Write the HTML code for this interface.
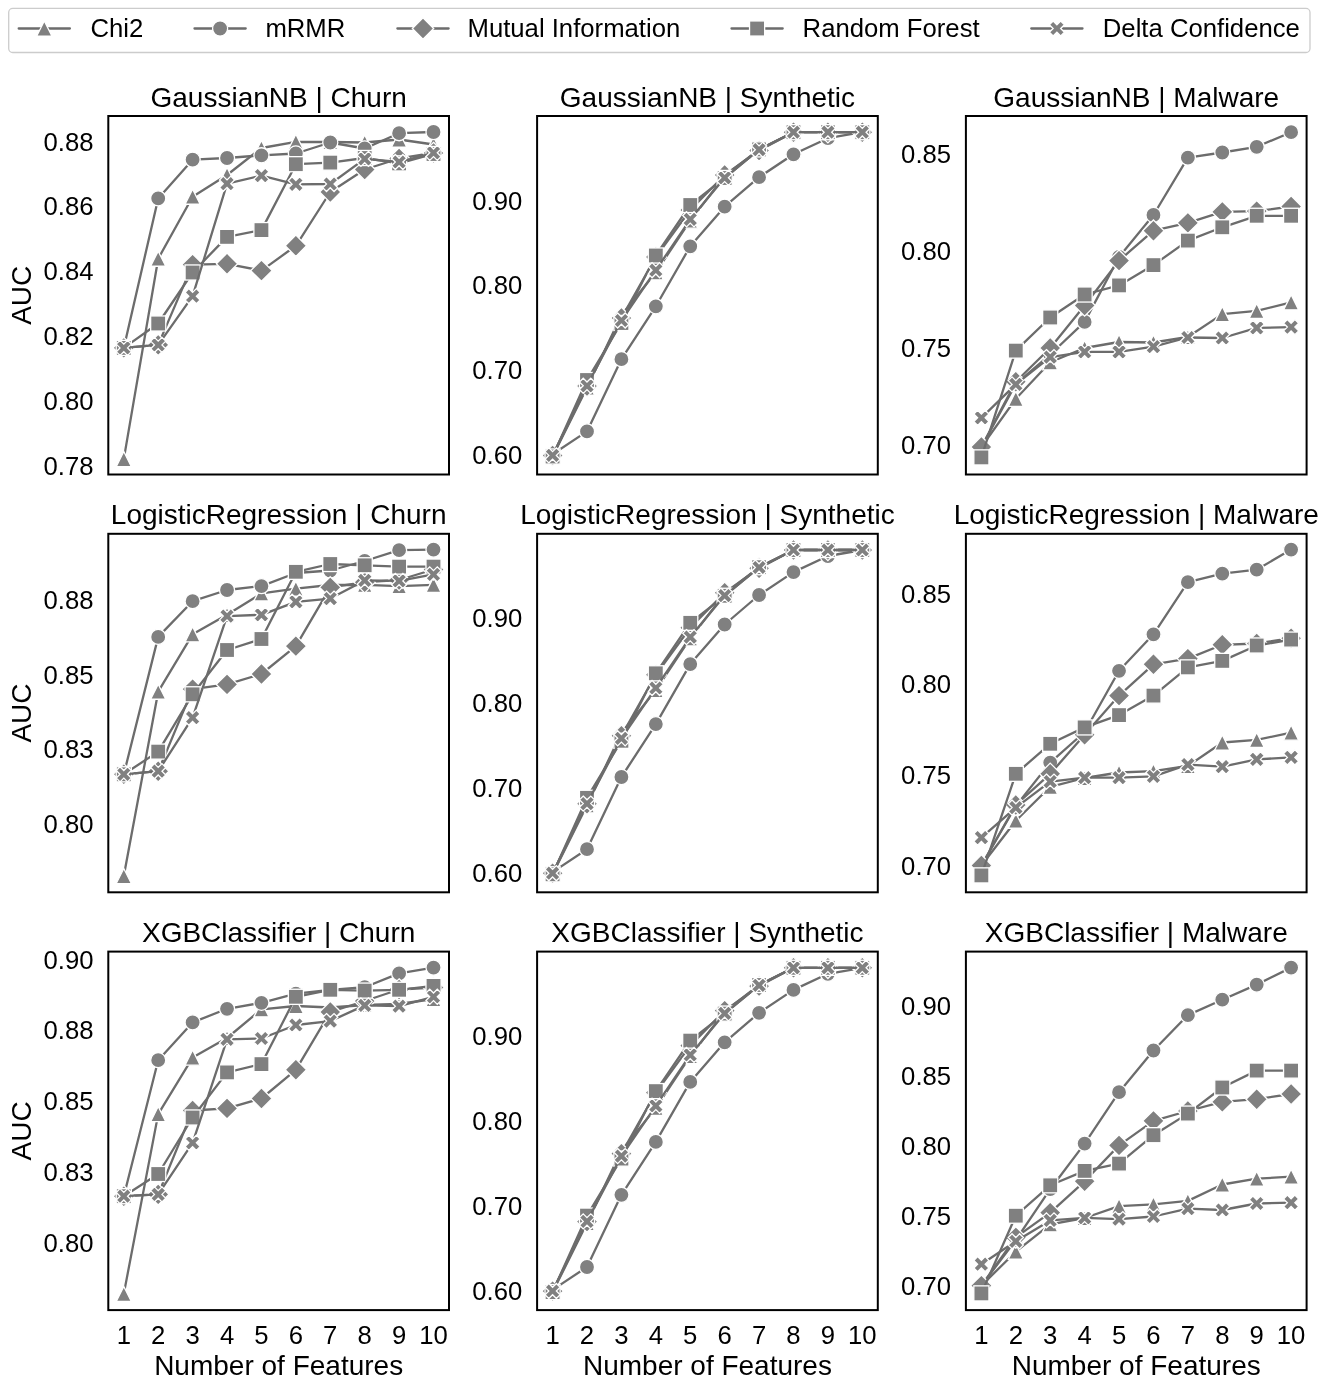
<!DOCTYPE html>
<html><head><meta charset="utf-8"><title>AUC vs Number of Features</title>
<style>html,body{margin:0;padding:0;background:#fff;width:1325px;height:1381px;overflow:hidden}
svg{will-change:transform}svg text{font-family:"Liberation Sans", sans-serif}</style></head>
<body>
<svg width="1325" height="1381" viewBox="0 0 1325 1381" style="display:block">
<rect width="1325" height="1381" fill="#fff"/>
<rect x="8.7" y="8.45" width="1301.3" height="44.05" rx="4" ry="4" fill="#fff" stroke="#cccccc" stroke-width="1.3"/>
<line x1="18.7" y1="28.5" x2="69.9" y2="28.5" stroke="#6c6c6c" stroke-width="2.3" stroke-linecap="round"/>
<g fill="#808080"><path d="M44.3 20.95 L36.75 36.05 L51.85 36.05 Z" stroke="#fff" stroke-width="1.3"/></g>
<text x="90.5" y="37.1" font-family="Liberation Sans, sans-serif" font-size="25.7" fill="#000000">Chi2</text>
<line x1="194.5" y1="28.5" x2="245.7" y2="28.5" stroke="#6c6c6c" stroke-width="2.3" stroke-linecap="round"/>
<g fill="#808080"><circle cx="220.1" cy="28.5" r="7.55" stroke="#fff" stroke-width="1.3"/></g>
<text x="265.4" y="37.1" font-family="Liberation Sans, sans-serif" font-size="25.7" fill="#000000">mRMR</text>
<line x1="397.4" y1="28.5" x2="448.6" y2="28.5" stroke="#6c6c6c" stroke-width="2.3" stroke-linecap="round"/>
<g fill="#808080"><path d="M423 17.82 L433.68 28.5 L423 39.18 L412.32 28.5 Z" stroke="#fff" stroke-width="1.3"/></g>
<text x="467.5" y="37.1" font-family="Liberation Sans, sans-serif" font-size="25.7" fill="#000000">Mutual Information</text>
<line x1="731.5" y1="28.5" x2="782.7" y2="28.5" stroke="#6c6c6c" stroke-width="2.3" stroke-linecap="round"/>
<g fill="#808080"><rect x="749.55" y="20.95" width="15.1" height="15.1" stroke="#fff" stroke-width="1.3"/></g>
<text x="802.6" y="37.1" font-family="Liberation Sans, sans-serif" font-size="25.7" fill="#000000">Random Forest</text>
<line x1="1031.3" y1="28.5" x2="1082.5" y2="28.5" stroke="#6c6c6c" stroke-width="2.3" stroke-linecap="round"/>
<g fill="#808080"><path d="M1053.12 20.95 L1056.9 24.73 L1060.68 20.95 L1064.45 24.73 L1060.68 28.5 L1064.45 32.27 L1060.68 36.05 L1056.9 32.27 L1053.12 36.05 L1049.35 32.27 L1053.12 28.5 L1049.35 24.73 Z" stroke="#fff" stroke-width="1.3"/></g>
<text x="1102.8" y="37.1" font-family="Liberation Sans, sans-serif" font-size="25.7" fill="#000000">Delta Confidence</text>
<clipPath id="c00"><rect x="108.3" y="116" width="340.7" height="358.5"/></clipPath>
<g clip-path="url(#c00)" fill="#808080">
<polyline points="123.79,459.1 158.2,258.7 192.61,196.7 227.03,175 261.44,148 295.86,141.8 330.27,142 364.69,142.5 399.1,139.5 433.51,144.5" fill="none" stroke="#6c6c6c" stroke-width="2.3" stroke-linejoin="round" stroke-linecap="butt"/>
<path d="M123.79 451.55 L116.24 466.65 L131.34 466.65 Z" stroke="#fff" stroke-width="1.3"/>
<path d="M158.2 251.15 L150.65 266.25 L165.75 266.25 Z" stroke="#fff" stroke-width="1.3"/>
<path d="M192.61 189.15 L185.06 204.25 L200.16 204.25 Z" stroke="#fff" stroke-width="1.3"/>
<path d="M227.03 167.45 L219.48 182.55 L234.58 182.55 Z" stroke="#fff" stroke-width="1.3"/>
<path d="M261.44 140.45 L253.89 155.55 L268.99 155.55 Z" stroke="#fff" stroke-width="1.3"/>
<path d="M295.86 134.25 L288.31 149.35 L303.41 149.35 Z" stroke="#fff" stroke-width="1.3"/>
<path d="M330.27 134.45 L322.72 149.55 L337.82 149.55 Z" stroke="#fff" stroke-width="1.3"/>
<path d="M364.69 134.95 L357.14 150.05 L372.24 150.05 Z" stroke="#fff" stroke-width="1.3"/>
<path d="M399.1 131.95 L391.55 147.05 L406.65 147.05 Z" stroke="#fff" stroke-width="1.3"/>
<path d="M433.51 136.95 L425.96 152.05 L441.06 152.05 Z" stroke="#fff" stroke-width="1.3"/>
<polyline points="123.79,347.9 158.2,198.4 192.61,159.7 227.03,158 261.44,155.3 295.86,153.5 330.27,142.5 364.69,148.5 399.1,133.2 433.51,132" fill="none" stroke="#6c6c6c" stroke-width="2.3" stroke-linejoin="round" stroke-linecap="butt"/>
<circle cx="123.79" cy="347.9" r="7.55" stroke="#fff" stroke-width="1.3"/>
<circle cx="158.2" cy="198.4" r="7.55" stroke="#fff" stroke-width="1.3"/>
<circle cx="192.61" cy="159.7" r="7.55" stroke="#fff" stroke-width="1.3"/>
<circle cx="227.03" cy="158" r="7.55" stroke="#fff" stroke-width="1.3"/>
<circle cx="261.44" cy="155.3" r="7.55" stroke="#fff" stroke-width="1.3"/>
<circle cx="295.86" cy="153.5" r="7.55" stroke="#fff" stroke-width="1.3"/>
<circle cx="330.27" cy="142.5" r="7.55" stroke="#fff" stroke-width="1.3"/>
<circle cx="364.69" cy="148.5" r="7.55" stroke="#fff" stroke-width="1.3"/>
<circle cx="399.1" cy="133.2" r="7.55" stroke="#fff" stroke-width="1.3"/>
<circle cx="433.51" cy="132" r="7.55" stroke="#fff" stroke-width="1.3"/>
<polyline points="123.79,347.9 158.2,344.9 192.61,264.6 227.03,263.8 261.44,270.6 295.86,245.8 330.27,192 364.69,169.5 399.1,158.5 433.51,153" fill="none" stroke="#6c6c6c" stroke-width="2.3" stroke-linejoin="round" stroke-linecap="butt"/>
<path d="M123.79 337.22 L134.46 347.9 L123.79 358.58 L113.11 347.9 Z" stroke="#fff" stroke-width="1.3"/>
<path d="M158.2 334.22 L168.88 344.9 L158.2 355.58 L147.52 344.9 Z" stroke="#fff" stroke-width="1.3"/>
<path d="M192.61 253.92 L203.29 264.6 L192.61 275.28 L181.94 264.6 Z" stroke="#fff" stroke-width="1.3"/>
<path d="M227.03 253.12 L237.71 263.8 L227.03 274.48 L216.35 263.8 Z" stroke="#fff" stroke-width="1.3"/>
<path d="M261.44 259.92 L272.12 270.6 L261.44 281.28 L250.77 270.6 Z" stroke="#fff" stroke-width="1.3"/>
<path d="M295.86 235.12 L306.53 245.8 L295.86 256.48 L285.18 245.8 Z" stroke="#fff" stroke-width="1.3"/>
<path d="M330.27 181.32 L340.95 192 L330.27 202.68 L319.59 192 Z" stroke="#fff" stroke-width="1.3"/>
<path d="M364.69 158.82 L375.36 169.5 L364.69 180.18 L354.01 169.5 Z" stroke="#fff" stroke-width="1.3"/>
<path d="M399.1 147.82 L409.78 158.5 L399.1 169.18 L388.42 158.5 Z" stroke="#fff" stroke-width="1.3"/>
<path d="M433.51 142.32 L444.19 153 L433.51 163.68 L422.84 153 Z" stroke="#fff" stroke-width="1.3"/>
<polyline points="123.79,347.9 158.2,323.5 192.61,272.5 227.03,236.9 261.44,230.1 295.86,164.2 330.27,162.6 364.69,158 399.1,163.4 433.51,154" fill="none" stroke="#6c6c6c" stroke-width="2.3" stroke-linejoin="round" stroke-linecap="butt"/>
<rect x="116.24" y="340.35" width="15.1" height="15.1" stroke="#fff" stroke-width="1.3"/>
<rect x="150.65" y="315.95" width="15.1" height="15.1" stroke="#fff" stroke-width="1.3"/>
<rect x="185.06" y="264.95" width="15.1" height="15.1" stroke="#fff" stroke-width="1.3"/>
<rect x="219.48" y="229.35" width="15.1" height="15.1" stroke="#fff" stroke-width="1.3"/>
<rect x="253.89" y="222.55" width="15.1" height="15.1" stroke="#fff" stroke-width="1.3"/>
<rect x="288.31" y="156.65" width="15.1" height="15.1" stroke="#fff" stroke-width="1.3"/>
<rect x="322.72" y="155.05" width="15.1" height="15.1" stroke="#fff" stroke-width="1.3"/>
<rect x="357.14" y="150.45" width="15.1" height="15.1" stroke="#fff" stroke-width="1.3"/>
<rect x="391.55" y="155.85" width="15.1" height="15.1" stroke="#fff" stroke-width="1.3"/>
<rect x="425.96" y="146.45" width="15.1" height="15.1" stroke="#fff" stroke-width="1.3"/>
<polyline points="123.79,347.9 158.2,344.9 192.61,296.2 227.03,183.7 261.44,175.6 295.86,184.3 330.27,184 364.69,158.9 399.1,162 433.51,152.8" fill="none" stroke="#6c6c6c" stroke-width="2.3" stroke-linejoin="round" stroke-linecap="butt"/>
<path d="M120.01 340.35 L123.79 344.12 L127.56 340.35 L131.34 344.12 L127.56 347.9 L131.34 351.67 L127.56 355.45 L123.79 351.67 L120.01 355.45 L116.24 351.67 L120.01 347.9 L116.24 344.12 Z" stroke="#fff" stroke-width="1.3"/>
<path d="M154.43 337.35 L158.2 341.12 L161.98 337.35 L165.75 341.12 L161.98 344.9 L165.75 348.67 L161.98 352.45 L158.2 348.67 L154.43 352.45 L150.65 348.67 L154.43 344.9 L150.65 341.12 Z" stroke="#fff" stroke-width="1.3"/>
<path d="M188.84 288.65 L192.61 292.43 L196.39 288.65 L200.16 292.43 L196.39 296.2 L200.16 299.97 L196.39 303.75 L192.61 299.97 L188.84 303.75 L185.06 299.97 L188.84 296.2 L185.06 292.43 Z" stroke="#fff" stroke-width="1.3"/>
<path d="M223.25 176.15 L227.03 179.92 L230.8 176.15 L234.58 179.92 L230.8 183.7 L234.58 187.47 L230.8 191.25 L227.03 187.47 L223.25 191.25 L219.48 187.47 L223.25 183.7 L219.48 179.92 Z" stroke="#fff" stroke-width="1.3"/>
<path d="M257.67 168.05 L261.44 171.82 L265.22 168.05 L268.99 171.82 L265.22 175.6 L268.99 179.38 L265.22 183.15 L261.44 179.38 L257.67 183.15 L253.89 179.38 L257.67 175.6 L253.89 171.82 Z" stroke="#fff" stroke-width="1.3"/>
<path d="M292.08 176.75 L295.86 180.53 L299.63 176.75 L303.41 180.53 L299.63 184.3 L303.41 188.08 L299.63 191.85 L295.86 188.08 L292.08 191.85 L288.31 188.08 L292.08 184.3 L288.31 180.53 Z" stroke="#fff" stroke-width="1.3"/>
<path d="M326.5 176.45 L330.27 180.22 L334.05 176.45 L337.82 180.22 L334.05 184 L337.82 187.78 L334.05 191.55 L330.27 187.78 L326.5 191.55 L322.72 187.78 L326.5 184 L322.72 180.22 Z" stroke="#fff" stroke-width="1.3"/>
<path d="M360.91 151.35 L364.69 155.12 L368.46 151.35 L372.24 155.12 L368.46 158.9 L372.24 162.68 L368.46 166.45 L364.69 162.68 L360.91 166.45 L357.14 162.68 L360.91 158.9 L357.14 155.12 Z" stroke="#fff" stroke-width="1.3"/>
<path d="M395.32 154.45 L399.1 158.22 L402.87 154.45 L406.65 158.22 L402.87 162 L406.65 165.78 L402.87 169.55 L399.1 165.78 L395.32 169.55 L391.55 165.78 L395.32 162 L391.55 158.22 Z" stroke="#fff" stroke-width="1.3"/>
<path d="M429.74 145.25 L433.51 149.03 L437.29 145.25 L441.06 149.03 L437.29 152.8 L441.06 156.58 L437.29 160.35 L433.51 156.58 L429.74 160.35 L425.96 156.58 L429.74 152.8 L425.96 149.03 Z" stroke="#fff" stroke-width="1.3"/>
</g>
<rect x="108.3" y="116" width="340.7" height="358.5" fill="none" stroke="#000000" stroke-width="2"/>
<text x="278.65" y="106.6" text-anchor="middle" font-family="Liberation Sans, sans-serif" font-size="28" fill="#000000">GaussianNB | Churn</text>
<text x="93.5" y="474.5" text-anchor="end" font-family="Liberation Sans, sans-serif" font-size="25.7" fill="#000000">0.78</text>
<text x="93.5" y="409.74" text-anchor="end" font-family="Liberation Sans, sans-serif" font-size="25.7" fill="#000000">0.80</text>
<text x="93.5" y="344.98" text-anchor="end" font-family="Liberation Sans, sans-serif" font-size="25.7" fill="#000000">0.82</text>
<text x="93.5" y="280.22" text-anchor="end" font-family="Liberation Sans, sans-serif" font-size="25.7" fill="#000000">0.84</text>
<text x="93.5" y="215.46" text-anchor="end" font-family="Liberation Sans, sans-serif" font-size="25.7" fill="#000000">0.86</text>
<text x="93.5" y="150.7" text-anchor="end" font-family="Liberation Sans, sans-serif" font-size="25.7" fill="#000000">0.88</text>
<text x="31.4" y="295.25" transform="rotate(-90 31.4 295.25)" text-anchor="middle" font-family="Liberation Sans, sans-serif" font-size="28" fill="#000000">AUC</text>
<clipPath id="c01"><rect x="537.1" y="116" width="340.7" height="358.5"/></clipPath>
<g clip-path="url(#c01)" fill="#808080">
<polyline points="552.59,456.5 587,387.5 621.41,315.2 655.83,272.3 690.24,220.6 724.66,176 759.07,149.4 793.49,132.2 827.9,132.2 862.31,132.2" fill="none" stroke="#6c6c6c" stroke-width="2.3" stroke-linejoin="round" stroke-linecap="butt"/>
<path d="M552.59 448.95 L545.04 464.05 L560.14 464.05 Z" stroke="#fff" stroke-width="1.3"/>
<path d="M587 379.95 L579.45 395.05 L594.55 395.05 Z" stroke="#fff" stroke-width="1.3"/>
<path d="M621.41 307.65 L613.86 322.75 L628.96 322.75 Z" stroke="#fff" stroke-width="1.3"/>
<path d="M655.83 264.75 L648.28 279.85 L663.38 279.85 Z" stroke="#fff" stroke-width="1.3"/>
<path d="M690.24 213.05 L682.69 228.15 L697.79 228.15 Z" stroke="#fff" stroke-width="1.3"/>
<path d="M724.66 168.45 L717.11 183.55 L732.21 183.55 Z" stroke="#fff" stroke-width="1.3"/>
<path d="M759.07 141.85 L751.52 156.95 L766.62 156.95 Z" stroke="#fff" stroke-width="1.3"/>
<path d="M793.49 124.65 L785.94 139.75 L801.04 139.75 Z" stroke="#fff" stroke-width="1.3"/>
<path d="M827.9 124.65 L820.35 139.75 L835.45 139.75 Z" stroke="#fff" stroke-width="1.3"/>
<path d="M862.31 124.65 L854.76 139.75 L869.86 139.75 Z" stroke="#fff" stroke-width="1.3"/>
<polyline points="552.59,454.3 587,431.4 621.41,359.2 655.83,306.3 690.24,246.3 724.66,206.7 759.07,177.2 793.49,154.3 827.9,138.2 862.31,132.2" fill="none" stroke="#6c6c6c" stroke-width="2.3" stroke-linejoin="round" stroke-linecap="butt"/>
<circle cx="552.59" cy="454.3" r="7.55" stroke="#fff" stroke-width="1.3"/>
<circle cx="587" cy="431.4" r="7.55" stroke="#fff" stroke-width="1.3"/>
<circle cx="621.41" cy="359.2" r="7.55" stroke="#fff" stroke-width="1.3"/>
<circle cx="655.83" cy="306.3" r="7.55" stroke="#fff" stroke-width="1.3"/>
<circle cx="690.24" cy="246.3" r="7.55" stroke="#fff" stroke-width="1.3"/>
<circle cx="724.66" cy="206.7" r="7.55" stroke="#fff" stroke-width="1.3"/>
<circle cx="759.07" cy="177.2" r="7.55" stroke="#fff" stroke-width="1.3"/>
<circle cx="793.49" cy="154.3" r="7.55" stroke="#fff" stroke-width="1.3"/>
<circle cx="827.9" cy="138.2" r="7.55" stroke="#fff" stroke-width="1.3"/>
<circle cx="862.31" cy="132.2" r="7.55" stroke="#fff" stroke-width="1.3"/>
<polyline points="552.59,455.5 587,386 621.41,318 655.83,257 690.24,210 724.66,175 759.07,150.5 793.49,132.2 827.9,132.2 862.31,132.2" fill="none" stroke="#6c6c6c" stroke-width="2.3" stroke-linejoin="round" stroke-linecap="butt"/>
<path d="M552.59 444.82 L563.26 455.5 L552.59 466.18 L541.91 455.5 Z" stroke="#fff" stroke-width="1.3"/>
<path d="M587 375.32 L597.68 386 L587 396.68 L576.32 386 Z" stroke="#fff" stroke-width="1.3"/>
<path d="M621.41 307.32 L632.09 318 L621.41 328.68 L610.74 318 Z" stroke="#fff" stroke-width="1.3"/>
<path d="M655.83 246.32 L666.51 257 L655.83 267.68 L645.15 257 Z" stroke="#fff" stroke-width="1.3"/>
<path d="M690.24 199.32 L700.92 210 L690.24 220.68 L679.57 210 Z" stroke="#fff" stroke-width="1.3"/>
<path d="M724.66 164.32 L735.33 175 L724.66 185.68 L713.98 175 Z" stroke="#fff" stroke-width="1.3"/>
<path d="M759.07 139.82 L769.75 150.5 L759.07 161.18 L748.39 150.5 Z" stroke="#fff" stroke-width="1.3"/>
<path d="M793.49 121.52 L804.16 132.2 L793.49 142.88 L782.81 132.2 Z" stroke="#fff" stroke-width="1.3"/>
<path d="M827.9 121.52 L838.58 132.2 L827.9 142.88 L817.22 132.2 Z" stroke="#fff" stroke-width="1.3"/>
<path d="M862.31 121.52 L872.99 132.2 L862.31 142.88 L851.64 132.2 Z" stroke="#fff" stroke-width="1.3"/>
<polyline points="552.59,456.5 587,380 621.41,323 655.83,255.5 690.24,205 724.66,178 759.07,149.4 793.49,132.2 827.9,132.2 862.31,132.2" fill="none" stroke="#6c6c6c" stroke-width="2.3" stroke-linejoin="round" stroke-linecap="butt"/>
<rect x="545.04" y="448.95" width="15.1" height="15.1" stroke="#fff" stroke-width="1.3"/>
<rect x="579.45" y="372.45" width="15.1" height="15.1" stroke="#fff" stroke-width="1.3"/>
<rect x="613.86" y="315.45" width="15.1" height="15.1" stroke="#fff" stroke-width="1.3"/>
<rect x="648.28" y="247.95" width="15.1" height="15.1" stroke="#fff" stroke-width="1.3"/>
<rect x="682.69" y="197.45" width="15.1" height="15.1" stroke="#fff" stroke-width="1.3"/>
<rect x="717.11" y="170.45" width="15.1" height="15.1" stroke="#fff" stroke-width="1.3"/>
<rect x="751.52" y="141.85" width="15.1" height="15.1" stroke="#fff" stroke-width="1.3"/>
<rect x="785.94" y="124.65" width="15.1" height="15.1" stroke="#fff" stroke-width="1.3"/>
<rect x="820.35" y="124.65" width="15.1" height="15.1" stroke="#fff" stroke-width="1.3"/>
<rect x="854.76" y="124.65" width="15.1" height="15.1" stroke="#fff" stroke-width="1.3"/>
<polyline points="552.59,455.4 587,385.8 621.41,320.5 655.83,270.2 690.24,219.3 724.66,177.8 759.07,149.7 793.49,132.2 827.9,132.2 862.31,132.2" fill="none" stroke="#6c6c6c" stroke-width="2.3" stroke-linejoin="round" stroke-linecap="butt"/>
<path d="M548.81 447.85 L552.59 451.62 L556.36 447.85 L560.14 451.62 L556.36 455.4 L560.14 459.17 L556.36 462.95 L552.59 459.17 L548.81 462.95 L545.04 459.17 L548.81 455.4 L545.04 451.62 Z" stroke="#fff" stroke-width="1.3"/>
<path d="M583.23 378.25 L587 382.03 L590.78 378.25 L594.55 382.03 L590.78 385.8 L594.55 389.57 L590.78 393.35 L587 389.57 L583.23 393.35 L579.45 389.57 L583.23 385.8 L579.45 382.03 Z" stroke="#fff" stroke-width="1.3"/>
<path d="M617.64 312.95 L621.41 316.73 L625.19 312.95 L628.96 316.73 L625.19 320.5 L628.96 324.27 L625.19 328.05 L621.41 324.27 L617.64 328.05 L613.86 324.27 L617.64 320.5 L613.86 316.73 Z" stroke="#fff" stroke-width="1.3"/>
<path d="M652.05 262.65 L655.83 266.43 L659.6 262.65 L663.38 266.43 L659.6 270.2 L663.38 273.97 L659.6 277.75 L655.83 273.97 L652.05 277.75 L648.28 273.97 L652.05 270.2 L648.28 266.43 Z" stroke="#fff" stroke-width="1.3"/>
<path d="M686.47 211.75 L690.24 215.53 L694.02 211.75 L697.79 215.53 L694.02 219.3 L697.79 223.08 L694.02 226.85 L690.24 223.08 L686.47 226.85 L682.69 223.08 L686.47 219.3 L682.69 215.53 Z" stroke="#fff" stroke-width="1.3"/>
<path d="M720.88 170.25 L724.66 174.03 L728.43 170.25 L732.21 174.03 L728.43 177.8 L732.21 181.58 L728.43 185.35 L724.66 181.58 L720.88 185.35 L717.11 181.58 L720.88 177.8 L717.11 174.03 Z" stroke="#fff" stroke-width="1.3"/>
<path d="M755.3 142.15 L759.07 145.92 L762.85 142.15 L766.62 145.92 L762.85 149.7 L766.62 153.47 L762.85 157.25 L759.07 153.47 L755.3 157.25 L751.52 153.47 L755.3 149.7 L751.52 145.92 Z" stroke="#fff" stroke-width="1.3"/>
<path d="M789.71 124.65 L793.49 128.42 L797.26 124.65 L801.04 128.42 L797.26 132.2 L801.04 135.97 L797.26 139.75 L793.49 135.97 L789.71 139.75 L785.94 135.97 L789.71 132.2 L785.94 128.42 Z" stroke="#fff" stroke-width="1.3"/>
<path d="M824.12 124.65 L827.9 128.42 L831.67 124.65 L835.45 128.42 L831.67 132.2 L835.45 135.97 L831.67 139.75 L827.9 135.97 L824.12 139.75 L820.35 135.97 L824.12 132.2 L820.35 128.42 Z" stroke="#fff" stroke-width="1.3"/>
<path d="M858.54 124.65 L862.31 128.42 L866.09 124.65 L869.86 128.42 L866.09 132.2 L869.86 135.97 L866.09 139.75 L862.31 135.97 L858.54 139.75 L854.76 135.97 L858.54 132.2 L854.76 128.42 Z" stroke="#fff" stroke-width="1.3"/>
</g>
<rect x="537.1" y="116" width="340.7" height="358.5" fill="none" stroke="#000000" stroke-width="2"/>
<text x="707.45" y="106.6" text-anchor="middle" font-family="Liberation Sans, sans-serif" font-size="28" fill="#000000">GaussianNB | Synthetic</text>
<text x="522.3" y="464.1" text-anchor="end" font-family="Liberation Sans, sans-serif" font-size="25.7" fill="#000000">0.60</text>
<text x="522.3" y="379.27" text-anchor="end" font-family="Liberation Sans, sans-serif" font-size="25.7" fill="#000000">0.70</text>
<text x="522.3" y="294.43" text-anchor="end" font-family="Liberation Sans, sans-serif" font-size="25.7" fill="#000000">0.80</text>
<text x="522.3" y="209.6" text-anchor="end" font-family="Liberation Sans, sans-serif" font-size="25.7" fill="#000000">0.90</text>
<clipPath id="c02"><rect x="965.9" y="116" width="340.7" height="358.5"/></clipPath>
<g clip-path="url(#c02)" fill="#808080">
<polyline points="981.39,447 1015.8,398.8 1050.21,362.3 1084.63,348 1119.04,342 1153.46,342.5 1187.87,337 1222.29,314.1 1256.7,310.9 1291.11,302.3" fill="none" stroke="#6c6c6c" stroke-width="2.3" stroke-linejoin="round" stroke-linecap="butt"/>
<path d="M981.39 439.45 L973.84 454.55 L988.94 454.55 Z" stroke="#fff" stroke-width="1.3"/>
<path d="M1015.8 391.25 L1008.25 406.35 L1023.35 406.35 Z" stroke="#fff" stroke-width="1.3"/>
<path d="M1050.21 354.75 L1042.66 369.85 L1057.76 369.85 Z" stroke="#fff" stroke-width="1.3"/>
<path d="M1084.63 340.45 L1077.08 355.55 L1092.18 355.55 Z" stroke="#fff" stroke-width="1.3"/>
<path d="M1119.04 334.45 L1111.49 349.55 L1126.59 349.55 Z" stroke="#fff" stroke-width="1.3"/>
<path d="M1153.46 334.95 L1145.91 350.05 L1161.01 350.05 Z" stroke="#fff" stroke-width="1.3"/>
<path d="M1187.87 329.45 L1180.32 344.55 L1195.42 344.55 Z" stroke="#fff" stroke-width="1.3"/>
<path d="M1222.29 306.55 L1214.74 321.65 L1229.84 321.65 Z" stroke="#fff" stroke-width="1.3"/>
<path d="M1256.7 303.35 L1249.15 318.45 L1264.25 318.45 Z" stroke="#fff" stroke-width="1.3"/>
<path d="M1291.11 294.75 L1283.56 309.85 L1298.66 309.85 Z" stroke="#fff" stroke-width="1.3"/>
<polyline points="981.39,447 1015.8,384 1050.21,354.5 1084.63,321.9 1119.04,257 1153.46,215 1187.87,157.7 1222.29,152.5 1256.7,146.8 1291.11,132.2" fill="none" stroke="#6c6c6c" stroke-width="2.3" stroke-linejoin="round" stroke-linecap="butt"/>
<circle cx="981.39" cy="447" r="7.55" stroke="#fff" stroke-width="1.3"/>
<circle cx="1015.8" cy="384" r="7.55" stroke="#fff" stroke-width="1.3"/>
<circle cx="1050.21" cy="354.5" r="7.55" stroke="#fff" stroke-width="1.3"/>
<circle cx="1084.63" cy="321.9" r="7.55" stroke="#fff" stroke-width="1.3"/>
<circle cx="1119.04" cy="257" r="7.55" stroke="#fff" stroke-width="1.3"/>
<circle cx="1153.46" cy="215" r="7.55" stroke="#fff" stroke-width="1.3"/>
<circle cx="1187.87" cy="157.7" r="7.55" stroke="#fff" stroke-width="1.3"/>
<circle cx="1222.29" cy="152.5" r="7.55" stroke="#fff" stroke-width="1.3"/>
<circle cx="1256.7" cy="146.8" r="7.55" stroke="#fff" stroke-width="1.3"/>
<circle cx="1291.11" cy="132.2" r="7.55" stroke="#fff" stroke-width="1.3"/>
<polyline points="981.39,447 1015.8,381.8 1050.21,348 1084.63,305.5 1119.04,260.6 1153.46,230.7 1187.87,222.9 1222.29,211.9 1256.7,211.1 1291.11,206.5" fill="none" stroke="#6c6c6c" stroke-width="2.3" stroke-linejoin="round" stroke-linecap="butt"/>
<path d="M981.39 436.32 L992.06 447 L981.39 457.68 L970.71 447 Z" stroke="#fff" stroke-width="1.3"/>
<path d="M1015.8 371.12 L1026.48 381.8 L1015.8 392.48 L1005.12 381.8 Z" stroke="#fff" stroke-width="1.3"/>
<path d="M1050.21 337.32 L1060.89 348 L1050.21 358.68 L1039.54 348 Z" stroke="#fff" stroke-width="1.3"/>
<path d="M1084.63 294.82 L1095.31 305.5 L1084.63 316.18 L1073.95 305.5 Z" stroke="#fff" stroke-width="1.3"/>
<path d="M1119.04 249.92 L1129.72 260.6 L1119.04 271.28 L1108.37 260.6 Z" stroke="#fff" stroke-width="1.3"/>
<path d="M1153.46 220.02 L1164.13 230.7 L1153.46 241.38 L1142.78 230.7 Z" stroke="#fff" stroke-width="1.3"/>
<path d="M1187.87 212.22 L1198.55 222.9 L1187.87 233.58 L1177.19 222.9 Z" stroke="#fff" stroke-width="1.3"/>
<path d="M1222.29 201.22 L1232.96 211.9 L1222.29 222.58 L1211.61 211.9 Z" stroke="#fff" stroke-width="1.3"/>
<path d="M1256.7 200.42 L1267.38 211.1 L1256.7 221.78 L1246.02 211.1 Z" stroke="#fff" stroke-width="1.3"/>
<path d="M1291.11 195.82 L1301.79 206.5 L1291.11 217.18 L1280.44 206.5 Z" stroke="#fff" stroke-width="1.3"/>
<polyline points="981.39,457.4 1015.8,350.6 1050.21,317.5 1084.63,294.5 1119.04,285.4 1153.46,265.1 1187.87,240.6 1222.29,227.3 1256.7,215.8 1291.11,215.8" fill="none" stroke="#6c6c6c" stroke-width="2.3" stroke-linejoin="round" stroke-linecap="butt"/>
<rect x="973.84" y="449.85" width="15.1" height="15.1" stroke="#fff" stroke-width="1.3"/>
<rect x="1008.25" y="343.05" width="15.1" height="15.1" stroke="#fff" stroke-width="1.3"/>
<rect x="1042.66" y="309.95" width="15.1" height="15.1" stroke="#fff" stroke-width="1.3"/>
<rect x="1077.08" y="286.95" width="15.1" height="15.1" stroke="#fff" stroke-width="1.3"/>
<rect x="1111.49" y="277.85" width="15.1" height="15.1" stroke="#fff" stroke-width="1.3"/>
<rect x="1145.91" y="257.55" width="15.1" height="15.1" stroke="#fff" stroke-width="1.3"/>
<rect x="1180.32" y="233.05" width="15.1" height="15.1" stroke="#fff" stroke-width="1.3"/>
<rect x="1214.74" y="219.75" width="15.1" height="15.1" stroke="#fff" stroke-width="1.3"/>
<rect x="1249.15" y="208.25" width="15.1" height="15.1" stroke="#fff" stroke-width="1.3"/>
<rect x="1283.56" y="208.25" width="15.1" height="15.1" stroke="#fff" stroke-width="1.3"/>
<polyline points="981.39,417.8 1015.8,384.4 1050.21,357.1 1084.63,351.9 1119.04,351.9 1153.46,346.6 1187.87,337.5 1222.29,338 1256.7,327.9 1291.11,327.1" fill="none" stroke="#6c6c6c" stroke-width="2.3" stroke-linejoin="round" stroke-linecap="butt"/>
<path d="M977.61 410.25 L981.39 414.03 L985.16 410.25 L988.94 414.03 L985.16 417.8 L988.94 421.57 L985.16 425.35 L981.39 421.57 L977.61 425.35 L973.84 421.57 L977.61 417.8 L973.84 414.03 Z" stroke="#fff" stroke-width="1.3"/>
<path d="M1012.03 376.85 L1015.8 380.62 L1019.58 376.85 L1023.35 380.62 L1019.58 384.4 L1023.35 388.17 L1019.58 391.95 L1015.8 388.17 L1012.03 391.95 L1008.25 388.17 L1012.03 384.4 L1008.25 380.62 Z" stroke="#fff" stroke-width="1.3"/>
<path d="M1046.44 349.55 L1050.21 353.33 L1053.99 349.55 L1057.76 353.33 L1053.99 357.1 L1057.76 360.88 L1053.99 364.65 L1050.21 360.88 L1046.44 364.65 L1042.66 360.88 L1046.44 357.1 L1042.66 353.33 Z" stroke="#fff" stroke-width="1.3"/>
<path d="M1080.85 344.35 L1084.63 348.12 L1088.4 344.35 L1092.18 348.12 L1088.4 351.9 L1092.18 355.67 L1088.4 359.45 L1084.63 355.67 L1080.85 359.45 L1077.08 355.67 L1080.85 351.9 L1077.08 348.12 Z" stroke="#fff" stroke-width="1.3"/>
<path d="M1115.27 344.35 L1119.04 348.12 L1122.82 344.35 L1126.59 348.12 L1122.82 351.9 L1126.59 355.67 L1122.82 359.45 L1119.04 355.67 L1115.27 359.45 L1111.49 355.67 L1115.27 351.9 L1111.49 348.12 Z" stroke="#fff" stroke-width="1.3"/>
<path d="M1149.68 339.05 L1153.46 342.83 L1157.23 339.05 L1161.01 342.83 L1157.23 346.6 L1161.01 350.38 L1157.23 354.15 L1153.46 350.38 L1149.68 354.15 L1145.91 350.38 L1149.68 346.6 L1145.91 342.83 Z" stroke="#fff" stroke-width="1.3"/>
<path d="M1184.1 329.95 L1187.87 333.73 L1191.65 329.95 L1195.42 333.73 L1191.65 337.5 L1195.42 341.27 L1191.65 345.05 L1187.87 341.27 L1184.1 345.05 L1180.32 341.27 L1184.1 337.5 L1180.32 333.73 Z" stroke="#fff" stroke-width="1.3"/>
<path d="M1218.51 330.45 L1222.29 334.23 L1226.06 330.45 L1229.84 334.23 L1226.06 338 L1229.84 341.77 L1226.06 345.55 L1222.29 341.77 L1218.51 345.55 L1214.74 341.77 L1218.51 338 L1214.74 334.23 Z" stroke="#fff" stroke-width="1.3"/>
<path d="M1252.92 320.35 L1256.7 324.12 L1260.47 320.35 L1264.25 324.12 L1260.47 327.9 L1264.25 331.67 L1260.47 335.45 L1256.7 331.67 L1252.92 335.45 L1249.15 331.67 L1252.92 327.9 L1249.15 324.12 Z" stroke="#fff" stroke-width="1.3"/>
<path d="M1287.34 319.55 L1291.11 323.33 L1294.89 319.55 L1298.66 323.33 L1294.89 327.1 L1298.66 330.88 L1294.89 334.65 L1291.11 330.88 L1287.34 334.65 L1283.56 330.88 L1287.34 327.1 L1283.56 323.33 Z" stroke="#fff" stroke-width="1.3"/>
</g>
<rect x="965.9" y="116" width="340.7" height="358.5" fill="none" stroke="#000000" stroke-width="2"/>
<text x="1136.25" y="106.6" text-anchor="middle" font-family="Liberation Sans, sans-serif" font-size="28" fill="#000000">GaussianNB | Malware</text>
<text x="951.1" y="454.2" text-anchor="end" font-family="Liberation Sans, sans-serif" font-size="25.7" fill="#000000">0.70</text>
<text x="951.1" y="356.97" text-anchor="end" font-family="Liberation Sans, sans-serif" font-size="25.7" fill="#000000">0.75</text>
<text x="951.1" y="259.73" text-anchor="end" font-family="Liberation Sans, sans-serif" font-size="25.7" fill="#000000">0.80</text>
<text x="951.1" y="162.5" text-anchor="end" font-family="Liberation Sans, sans-serif" font-size="25.7" fill="#000000">0.85</text>
<clipPath id="c10"><rect x="108.3" y="533.8" width="340.7" height="358.5"/></clipPath>
<g clip-path="url(#c10)" fill="#808080">
<polyline points="123.79,876 158.2,691.7 192.61,634.3 227.03,614.8 261.44,593.4 295.86,588.7 330.27,585 364.69,584.8 399.1,586.1 433.51,584.8" fill="none" stroke="#6c6c6c" stroke-width="2.3" stroke-linejoin="round" stroke-linecap="butt"/>
<path d="M123.79 868.45 L116.24 883.55 L131.34 883.55 Z" stroke="#fff" stroke-width="1.3"/>
<path d="M158.2 684.15 L150.65 699.25 L165.75 699.25 Z" stroke="#fff" stroke-width="1.3"/>
<path d="M192.61 626.75 L185.06 641.85 L200.16 641.85 Z" stroke="#fff" stroke-width="1.3"/>
<path d="M227.03 607.25 L219.48 622.35 L234.58 622.35 Z" stroke="#fff" stroke-width="1.3"/>
<path d="M261.44 585.85 L253.89 600.95 L268.99 600.95 Z" stroke="#fff" stroke-width="1.3"/>
<path d="M295.86 581.15 L288.31 596.25 L303.41 596.25 Z" stroke="#fff" stroke-width="1.3"/>
<path d="M330.27 577.45 L322.72 592.55 L337.82 592.55 Z" stroke="#fff" stroke-width="1.3"/>
<path d="M364.69 577.25 L357.14 592.35 L372.24 592.35 Z" stroke="#fff" stroke-width="1.3"/>
<path d="M399.1 578.55 L391.55 593.65 L406.65 593.65 Z" stroke="#fff" stroke-width="1.3"/>
<path d="M433.51 577.25 L425.96 592.35 L441.06 592.35 Z" stroke="#fff" stroke-width="1.3"/>
<polyline points="123.79,774.3 158.2,636.9 192.61,601.2 227.03,590 261.44,586.1 295.86,573 330.27,570.5 364.69,561 399.1,550.2 433.51,549.6" fill="none" stroke="#6c6c6c" stroke-width="2.3" stroke-linejoin="round" stroke-linecap="butt"/>
<circle cx="123.79" cy="774.3" r="7.55" stroke="#fff" stroke-width="1.3"/>
<circle cx="158.2" cy="636.9" r="7.55" stroke="#fff" stroke-width="1.3"/>
<circle cx="192.61" cy="601.2" r="7.55" stroke="#fff" stroke-width="1.3"/>
<circle cx="227.03" cy="590" r="7.55" stroke="#fff" stroke-width="1.3"/>
<circle cx="261.44" cy="586.1" r="7.55" stroke="#fff" stroke-width="1.3"/>
<circle cx="295.86" cy="573" r="7.55" stroke="#fff" stroke-width="1.3"/>
<circle cx="330.27" cy="570.5" r="7.55" stroke="#fff" stroke-width="1.3"/>
<circle cx="364.69" cy="561" r="7.55" stroke="#fff" stroke-width="1.3"/>
<circle cx="399.1" cy="550.2" r="7.55" stroke="#fff" stroke-width="1.3"/>
<circle cx="433.51" cy="549.6" r="7.55" stroke="#fff" stroke-width="1.3"/>
<polyline points="123.79,774.3 158.2,771.2 192.61,689.1 227.03,684.4 261.44,674 295.86,646.1 330.27,587.4 364.69,582.2 399.1,580 433.51,569.5" fill="none" stroke="#6c6c6c" stroke-width="2.3" stroke-linejoin="round" stroke-linecap="butt"/>
<path d="M123.79 763.62 L134.46 774.3 L123.79 784.98 L113.11 774.3 Z" stroke="#fff" stroke-width="1.3"/>
<path d="M158.2 760.52 L168.88 771.2 L158.2 781.88 L147.52 771.2 Z" stroke="#fff" stroke-width="1.3"/>
<path d="M192.61 678.42 L203.29 689.1 L192.61 699.78 L181.94 689.1 Z" stroke="#fff" stroke-width="1.3"/>
<path d="M227.03 673.72 L237.71 684.4 L227.03 695.08 L216.35 684.4 Z" stroke="#fff" stroke-width="1.3"/>
<path d="M261.44 663.32 L272.12 674 L261.44 684.68 L250.77 674 Z" stroke="#fff" stroke-width="1.3"/>
<path d="M295.86 635.42 L306.53 646.1 L295.86 656.78 L285.18 646.1 Z" stroke="#fff" stroke-width="1.3"/>
<path d="M330.27 576.72 L340.95 587.4 L330.27 598.08 L319.59 587.4 Z" stroke="#fff" stroke-width="1.3"/>
<path d="M364.69 571.52 L375.36 582.2 L364.69 592.88 L354.01 582.2 Z" stroke="#fff" stroke-width="1.3"/>
<path d="M399.1 569.32 L409.78 580 L399.1 590.68 L388.42 580 Z" stroke="#fff" stroke-width="1.3"/>
<path d="M433.51 558.82 L444.19 569.5 L433.51 580.18 L422.84 569.5 Z" stroke="#fff" stroke-width="1.3"/>
<polyline points="123.79,774.3 158.2,751.6 192.61,694.3 227.03,650 261.44,639 295.86,571.8 330.27,564 364.69,565.3 399.1,566.6 433.51,566.6" fill="none" stroke="#6c6c6c" stroke-width="2.3" stroke-linejoin="round" stroke-linecap="butt"/>
<rect x="116.24" y="766.75" width="15.1" height="15.1" stroke="#fff" stroke-width="1.3"/>
<rect x="150.65" y="744.05" width="15.1" height="15.1" stroke="#fff" stroke-width="1.3"/>
<rect x="185.06" y="686.75" width="15.1" height="15.1" stroke="#fff" stroke-width="1.3"/>
<rect x="219.48" y="642.45" width="15.1" height="15.1" stroke="#fff" stroke-width="1.3"/>
<rect x="253.89" y="631.45" width="15.1" height="15.1" stroke="#fff" stroke-width="1.3"/>
<rect x="288.31" y="564.25" width="15.1" height="15.1" stroke="#fff" stroke-width="1.3"/>
<rect x="322.72" y="556.45" width="15.1" height="15.1" stroke="#fff" stroke-width="1.3"/>
<rect x="357.14" y="557.75" width="15.1" height="15.1" stroke="#fff" stroke-width="1.3"/>
<rect x="391.55" y="559.05" width="15.1" height="15.1" stroke="#fff" stroke-width="1.3"/>
<rect x="425.96" y="559.05" width="15.1" height="15.1" stroke="#fff" stroke-width="1.3"/>
<polyline points="123.79,774.3 158.2,771.2 192.61,717.7 227.03,616.1 261.44,614.8 295.86,601.8 330.27,598.6 364.69,580.4 399.1,580.9 433.51,574.4" fill="none" stroke="#6c6c6c" stroke-width="2.3" stroke-linejoin="round" stroke-linecap="butt"/>
<path d="M120.01 766.75 L123.79 770.52 L127.56 766.75 L131.34 770.52 L127.56 774.3 L131.34 778.07 L127.56 781.85 L123.79 778.07 L120.01 781.85 L116.24 778.07 L120.01 774.3 L116.24 770.52 Z" stroke="#fff" stroke-width="1.3"/>
<path d="M154.43 763.65 L158.2 767.43 L161.98 763.65 L165.75 767.43 L161.98 771.2 L165.75 774.98 L161.98 778.75 L158.2 774.98 L154.43 778.75 L150.65 774.98 L154.43 771.2 L150.65 767.43 Z" stroke="#fff" stroke-width="1.3"/>
<path d="M188.84 710.15 L192.61 713.93 L196.39 710.15 L200.16 713.93 L196.39 717.7 L200.16 721.48 L196.39 725.25 L192.61 721.48 L188.84 725.25 L185.06 721.48 L188.84 717.7 L185.06 713.93 Z" stroke="#fff" stroke-width="1.3"/>
<path d="M223.25 608.55 L227.03 612.33 L230.8 608.55 L234.58 612.33 L230.8 616.1 L234.58 619.88 L230.8 623.65 L227.03 619.88 L223.25 623.65 L219.48 619.88 L223.25 616.1 L219.48 612.33 Z" stroke="#fff" stroke-width="1.3"/>
<path d="M257.67 607.25 L261.44 611.02 L265.22 607.25 L268.99 611.02 L265.22 614.8 L268.99 618.57 L265.22 622.35 L261.44 618.57 L257.67 622.35 L253.89 618.57 L257.67 614.8 L253.89 611.02 Z" stroke="#fff" stroke-width="1.3"/>
<path d="M292.08 594.25 L295.86 598.02 L299.63 594.25 L303.41 598.02 L299.63 601.8 L303.41 605.57 L299.63 609.35 L295.86 605.57 L292.08 609.35 L288.31 605.57 L292.08 601.8 L288.31 598.02 Z" stroke="#fff" stroke-width="1.3"/>
<path d="M326.5 591.05 L330.27 594.83 L334.05 591.05 L337.82 594.83 L334.05 598.6 L337.82 602.38 L334.05 606.15 L330.27 602.38 L326.5 606.15 L322.72 602.38 L326.5 598.6 L322.72 594.83 Z" stroke="#fff" stroke-width="1.3"/>
<path d="M360.91 572.85 L364.69 576.62 L368.46 572.85 L372.24 576.62 L368.46 580.4 L372.24 584.17 L368.46 587.95 L364.69 584.17 L360.91 587.95 L357.14 584.17 L360.91 580.4 L357.14 576.62 Z" stroke="#fff" stroke-width="1.3"/>
<path d="M395.32 573.35 L399.1 577.12 L402.87 573.35 L406.65 577.12 L402.87 580.9 L406.65 584.67 L402.87 588.45 L399.1 584.67 L395.32 588.45 L391.55 584.67 L395.32 580.9 L391.55 577.12 Z" stroke="#fff" stroke-width="1.3"/>
<path d="M429.74 566.85 L433.51 570.62 L437.29 566.85 L441.06 570.62 L437.29 574.4 L441.06 578.17 L437.29 581.95 L433.51 578.17 L429.74 581.95 L425.96 578.17 L429.74 574.4 L425.96 570.62 Z" stroke="#fff" stroke-width="1.3"/>
</g>
<rect x="108.3" y="533.8" width="340.7" height="358.5" fill="none" stroke="#000000" stroke-width="2"/>
<text x="278.65" y="524.4" text-anchor="middle" font-family="Liberation Sans, sans-serif" font-size="28" fill="#000000">LogisticRegression | Churn</text>
<text x="93.5" y="832.6" text-anchor="end" font-family="Liberation Sans, sans-serif" font-size="25.7" fill="#000000">0.80</text>
<text x="93.5" y="758.17" text-anchor="end" font-family="Liberation Sans, sans-serif" font-size="25.7" fill="#000000">0.83</text>
<text x="93.5" y="683.73" text-anchor="end" font-family="Liberation Sans, sans-serif" font-size="25.7" fill="#000000">0.85</text>
<text x="93.5" y="609.3" text-anchor="end" font-family="Liberation Sans, sans-serif" font-size="25.7" fill="#000000">0.88</text>
<text x="31.4" y="713.05" transform="rotate(-90 31.4 713.05)" text-anchor="middle" font-family="Liberation Sans, sans-serif" font-size="28" fill="#000000">AUC</text>
<clipPath id="c11"><rect x="537.1" y="533.8" width="340.7" height="358.5"/></clipPath>
<g clip-path="url(#c11)" fill="#808080">
<polyline points="552.59,874.3 587,805.3 621.41,733 655.83,690.1 690.24,638.4 724.66,593.8 759.07,567.2 793.49,550 827.9,550 862.31,550" fill="none" stroke="#6c6c6c" stroke-width="2.3" stroke-linejoin="round" stroke-linecap="butt"/>
<path d="M552.59 866.75 L545.04 881.85 L560.14 881.85 Z" stroke="#fff" stroke-width="1.3"/>
<path d="M587 797.75 L579.45 812.85 L594.55 812.85 Z" stroke="#fff" stroke-width="1.3"/>
<path d="M621.41 725.45 L613.86 740.55 L628.96 740.55 Z" stroke="#fff" stroke-width="1.3"/>
<path d="M655.83 682.55 L648.28 697.65 L663.38 697.65 Z" stroke="#fff" stroke-width="1.3"/>
<path d="M690.24 630.85 L682.69 645.95 L697.79 645.95 Z" stroke="#fff" stroke-width="1.3"/>
<path d="M724.66 586.25 L717.11 601.35 L732.21 601.35 Z" stroke="#fff" stroke-width="1.3"/>
<path d="M759.07 559.65 L751.52 574.75 L766.62 574.75 Z" stroke="#fff" stroke-width="1.3"/>
<path d="M793.49 542.45 L785.94 557.55 L801.04 557.55 Z" stroke="#fff" stroke-width="1.3"/>
<path d="M827.9 542.45 L820.35 557.55 L835.45 557.55 Z" stroke="#fff" stroke-width="1.3"/>
<path d="M862.31 542.45 L854.76 557.55 L869.86 557.55 Z" stroke="#fff" stroke-width="1.3"/>
<polyline points="552.59,872.1 587,849.2 621.41,777 655.83,724.1 690.24,664.1 724.66,624.5 759.07,595 793.49,572.1 827.9,556 862.31,550" fill="none" stroke="#6c6c6c" stroke-width="2.3" stroke-linejoin="round" stroke-linecap="butt"/>
<circle cx="552.59" cy="872.1" r="7.55" stroke="#fff" stroke-width="1.3"/>
<circle cx="587" cy="849.2" r="7.55" stroke="#fff" stroke-width="1.3"/>
<circle cx="621.41" cy="777" r="7.55" stroke="#fff" stroke-width="1.3"/>
<circle cx="655.83" cy="724.1" r="7.55" stroke="#fff" stroke-width="1.3"/>
<circle cx="690.24" cy="664.1" r="7.55" stroke="#fff" stroke-width="1.3"/>
<circle cx="724.66" cy="624.5" r="7.55" stroke="#fff" stroke-width="1.3"/>
<circle cx="759.07" cy="595" r="7.55" stroke="#fff" stroke-width="1.3"/>
<circle cx="793.49" cy="572.1" r="7.55" stroke="#fff" stroke-width="1.3"/>
<circle cx="827.9" cy="556" r="7.55" stroke="#fff" stroke-width="1.3"/>
<circle cx="862.31" cy="550" r="7.55" stroke="#fff" stroke-width="1.3"/>
<polyline points="552.59,873.3 587,803.8 621.41,735.8 655.83,674.8 690.24,627.8 724.66,592.8 759.07,568.3 793.49,550 827.9,550 862.31,550" fill="none" stroke="#6c6c6c" stroke-width="2.3" stroke-linejoin="round" stroke-linecap="butt"/>
<path d="M552.59 862.62 L563.26 873.3 L552.59 883.98 L541.91 873.3 Z" stroke="#fff" stroke-width="1.3"/>
<path d="M587 793.12 L597.68 803.8 L587 814.48 L576.32 803.8 Z" stroke="#fff" stroke-width="1.3"/>
<path d="M621.41 725.12 L632.09 735.8 L621.41 746.48 L610.74 735.8 Z" stroke="#fff" stroke-width="1.3"/>
<path d="M655.83 664.12 L666.51 674.8 L655.83 685.48 L645.15 674.8 Z" stroke="#fff" stroke-width="1.3"/>
<path d="M690.24 617.12 L700.92 627.8 L690.24 638.48 L679.57 627.8 Z" stroke="#fff" stroke-width="1.3"/>
<path d="M724.66 582.12 L735.33 592.8 L724.66 603.48 L713.98 592.8 Z" stroke="#fff" stroke-width="1.3"/>
<path d="M759.07 557.62 L769.75 568.3 L759.07 578.98 L748.39 568.3 Z" stroke="#fff" stroke-width="1.3"/>
<path d="M793.49 539.32 L804.16 550 L793.49 560.68 L782.81 550 Z" stroke="#fff" stroke-width="1.3"/>
<path d="M827.9 539.32 L838.58 550 L827.9 560.68 L817.22 550 Z" stroke="#fff" stroke-width="1.3"/>
<path d="M862.31 539.32 L872.99 550 L862.31 560.68 L851.64 550 Z" stroke="#fff" stroke-width="1.3"/>
<polyline points="552.59,874.3 587,797.8 621.41,740.8 655.83,673.3 690.24,622.8 724.66,595.8 759.07,567.2 793.49,550 827.9,550 862.31,550" fill="none" stroke="#6c6c6c" stroke-width="2.3" stroke-linejoin="round" stroke-linecap="butt"/>
<rect x="545.04" y="866.75" width="15.1" height="15.1" stroke="#fff" stroke-width="1.3"/>
<rect x="579.45" y="790.25" width="15.1" height="15.1" stroke="#fff" stroke-width="1.3"/>
<rect x="613.86" y="733.25" width="15.1" height="15.1" stroke="#fff" stroke-width="1.3"/>
<rect x="648.28" y="665.75" width="15.1" height="15.1" stroke="#fff" stroke-width="1.3"/>
<rect x="682.69" y="615.25" width="15.1" height="15.1" stroke="#fff" stroke-width="1.3"/>
<rect x="717.11" y="588.25" width="15.1" height="15.1" stroke="#fff" stroke-width="1.3"/>
<rect x="751.52" y="559.65" width="15.1" height="15.1" stroke="#fff" stroke-width="1.3"/>
<rect x="785.94" y="542.45" width="15.1" height="15.1" stroke="#fff" stroke-width="1.3"/>
<rect x="820.35" y="542.45" width="15.1" height="15.1" stroke="#fff" stroke-width="1.3"/>
<rect x="854.76" y="542.45" width="15.1" height="15.1" stroke="#fff" stroke-width="1.3"/>
<polyline points="552.59,873.2 587,803.6 621.41,738.3 655.83,688 690.24,637.1 724.66,595.6 759.07,567.5 793.49,550 827.9,550 862.31,550" fill="none" stroke="#6c6c6c" stroke-width="2.3" stroke-linejoin="round" stroke-linecap="butt"/>
<path d="M548.81 865.65 L552.59 869.43 L556.36 865.65 L560.14 869.43 L556.36 873.2 L560.14 876.98 L556.36 880.75 L552.59 876.98 L548.81 880.75 L545.04 876.98 L548.81 873.2 L545.04 869.43 Z" stroke="#fff" stroke-width="1.3"/>
<path d="M583.23 796.05 L587 799.83 L590.78 796.05 L594.55 799.83 L590.78 803.6 L594.55 807.38 L590.78 811.15 L587 807.38 L583.23 811.15 L579.45 807.38 L583.23 803.6 L579.45 799.83 Z" stroke="#fff" stroke-width="1.3"/>
<path d="M617.64 730.75 L621.41 734.52 L625.19 730.75 L628.96 734.52 L625.19 738.3 L628.96 742.07 L625.19 745.85 L621.41 742.07 L617.64 745.85 L613.86 742.07 L617.64 738.3 L613.86 734.52 Z" stroke="#fff" stroke-width="1.3"/>
<path d="M652.05 680.45 L655.83 684.23 L659.6 680.45 L663.38 684.23 L659.6 688 L663.38 691.77 L659.6 695.55 L655.83 691.77 L652.05 695.55 L648.28 691.77 L652.05 688 L648.28 684.23 Z" stroke="#fff" stroke-width="1.3"/>
<path d="M686.47 629.55 L690.24 633.33 L694.02 629.55 L697.79 633.33 L694.02 637.1 L697.79 640.88 L694.02 644.65 L690.24 640.88 L686.47 644.65 L682.69 640.88 L686.47 637.1 L682.69 633.33 Z" stroke="#fff" stroke-width="1.3"/>
<path d="M720.88 588.05 L724.66 591.83 L728.43 588.05 L732.21 591.83 L728.43 595.6 L732.21 599.38 L728.43 603.15 L724.66 599.38 L720.88 603.15 L717.11 599.38 L720.88 595.6 L717.11 591.83 Z" stroke="#fff" stroke-width="1.3"/>
<path d="M755.3 559.95 L759.07 563.73 L762.85 559.95 L766.62 563.73 L762.85 567.5 L766.62 571.27 L762.85 575.05 L759.07 571.27 L755.3 575.05 L751.52 571.27 L755.3 567.5 L751.52 563.73 Z" stroke="#fff" stroke-width="1.3"/>
<path d="M789.71 542.45 L793.49 546.23 L797.26 542.45 L801.04 546.23 L797.26 550 L801.04 553.77 L797.26 557.55 L793.49 553.77 L789.71 557.55 L785.94 553.77 L789.71 550 L785.94 546.23 Z" stroke="#fff" stroke-width="1.3"/>
<path d="M824.12 542.45 L827.9 546.23 L831.67 542.45 L835.45 546.23 L831.67 550 L835.45 553.77 L831.67 557.55 L827.9 553.77 L824.12 557.55 L820.35 553.77 L824.12 550 L820.35 546.23 Z" stroke="#fff" stroke-width="1.3"/>
<path d="M858.54 542.45 L862.31 546.23 L866.09 542.45 L869.86 546.23 L866.09 550 L869.86 553.77 L866.09 557.55 L862.31 553.77 L858.54 557.55 L854.76 553.77 L858.54 550 L854.76 546.23 Z" stroke="#fff" stroke-width="1.3"/>
</g>
<rect x="537.1" y="533.8" width="340.7" height="358.5" fill="none" stroke="#000000" stroke-width="2"/>
<text x="707.45" y="524.4" text-anchor="middle" font-family="Liberation Sans, sans-serif" font-size="28" fill="#000000">LogisticRegression | Synthetic</text>
<text x="522.3" y="881.9" text-anchor="end" font-family="Liberation Sans, sans-serif" font-size="25.7" fill="#000000">0.60</text>
<text x="522.3" y="797.07" text-anchor="end" font-family="Liberation Sans, sans-serif" font-size="25.7" fill="#000000">0.70</text>
<text x="522.3" y="712.23" text-anchor="end" font-family="Liberation Sans, sans-serif" font-size="25.7" fill="#000000">0.80</text>
<text x="522.3" y="627.4" text-anchor="end" font-family="Liberation Sans, sans-serif" font-size="25.7" fill="#000000">0.90</text>
<clipPath id="c12"><rect x="965.9" y="533.8" width="340.7" height="358.5"/></clipPath>
<g clip-path="url(#c12)" fill="#808080">
<polyline points="981.39,865.5 1015.8,820.7 1050.21,786.8 1084.63,778 1119.04,772.5 1153.46,771.2 1187.87,766 1222.29,742.5 1256.7,739.9 1291.11,732.6" fill="none" stroke="#6c6c6c" stroke-width="2.3" stroke-linejoin="round" stroke-linecap="butt"/>
<path d="M981.39 857.95 L973.84 873.05 L988.94 873.05 Z" stroke="#fff" stroke-width="1.3"/>
<path d="M1015.8 813.15 L1008.25 828.25 L1023.35 828.25 Z" stroke="#fff" stroke-width="1.3"/>
<path d="M1050.21 779.25 L1042.66 794.35 L1057.76 794.35 Z" stroke="#fff" stroke-width="1.3"/>
<path d="M1084.63 770.45 L1077.08 785.55 L1092.18 785.55 Z" stroke="#fff" stroke-width="1.3"/>
<path d="M1119.04 764.95 L1111.49 780.05 L1126.59 780.05 Z" stroke="#fff" stroke-width="1.3"/>
<path d="M1153.46 763.65 L1145.91 778.75 L1161.01 778.75 Z" stroke="#fff" stroke-width="1.3"/>
<path d="M1187.87 758.45 L1180.32 773.55 L1195.42 773.55 Z" stroke="#fff" stroke-width="1.3"/>
<path d="M1222.29 734.95 L1214.74 750.05 L1229.84 750.05 Z" stroke="#fff" stroke-width="1.3"/>
<path d="M1256.7 732.35 L1249.15 747.45 L1264.25 747.45 Z" stroke="#fff" stroke-width="1.3"/>
<path d="M1291.11 725.05 L1283.56 740.15 L1298.66 740.15 Z" stroke="#fff" stroke-width="1.3"/>
<polyline points="981.39,865.5 1015.8,806 1050.21,762.6 1084.63,732 1119.04,670.8 1153.46,634.3 1187.87,582.2 1222.29,573.6 1256.7,569.7 1291.11,549.6" fill="none" stroke="#6c6c6c" stroke-width="2.3" stroke-linejoin="round" stroke-linecap="butt"/>
<circle cx="981.39" cy="865.5" r="7.55" stroke="#fff" stroke-width="1.3"/>
<circle cx="1015.8" cy="806" r="7.55" stroke="#fff" stroke-width="1.3"/>
<circle cx="1050.21" cy="762.6" r="7.55" stroke="#fff" stroke-width="1.3"/>
<circle cx="1084.63" cy="732" r="7.55" stroke="#fff" stroke-width="1.3"/>
<circle cx="1119.04" cy="670.8" r="7.55" stroke="#fff" stroke-width="1.3"/>
<circle cx="1153.46" cy="634.3" r="7.55" stroke="#fff" stroke-width="1.3"/>
<circle cx="1187.87" cy="582.2" r="7.55" stroke="#fff" stroke-width="1.3"/>
<circle cx="1222.29" cy="573.6" r="7.55" stroke="#fff" stroke-width="1.3"/>
<circle cx="1256.7" cy="569.7" r="7.55" stroke="#fff" stroke-width="1.3"/>
<circle cx="1291.11" cy="549.6" r="7.55" stroke="#fff" stroke-width="1.3"/>
<polyline points="981.39,865.5 1015.8,805 1050.21,773.8 1084.63,734.7 1119.04,695.6 1153.46,664.3 1187.87,658.6 1222.29,644.8 1256.7,643.5 1291.11,638.2" fill="none" stroke="#6c6c6c" stroke-width="2.3" stroke-linejoin="round" stroke-linecap="butt"/>
<path d="M981.39 854.82 L992.06 865.5 L981.39 876.18 L970.71 865.5 Z" stroke="#fff" stroke-width="1.3"/>
<path d="M1015.8 794.32 L1026.48 805 L1015.8 815.68 L1005.12 805 Z" stroke="#fff" stroke-width="1.3"/>
<path d="M1050.21 763.12 L1060.89 773.8 L1050.21 784.48 L1039.54 773.8 Z" stroke="#fff" stroke-width="1.3"/>
<path d="M1084.63 724.02 L1095.31 734.7 L1084.63 745.38 L1073.95 734.7 Z" stroke="#fff" stroke-width="1.3"/>
<path d="M1119.04 684.92 L1129.72 695.6 L1119.04 706.28 L1108.37 695.6 Z" stroke="#fff" stroke-width="1.3"/>
<path d="M1153.46 653.62 L1164.13 664.3 L1153.46 674.98 L1142.78 664.3 Z" stroke="#fff" stroke-width="1.3"/>
<path d="M1187.87 647.92 L1198.55 658.6 L1187.87 669.28 L1177.19 658.6 Z" stroke="#fff" stroke-width="1.3"/>
<path d="M1222.29 634.12 L1232.96 644.8 L1222.29 655.48 L1211.61 644.8 Z" stroke="#fff" stroke-width="1.3"/>
<path d="M1256.7 632.82 L1267.38 643.5 L1256.7 654.18 L1246.02 643.5 Z" stroke="#fff" stroke-width="1.3"/>
<path d="M1291.11 627.52 L1301.79 638.2 L1291.11 648.88 L1280.44 638.2 Z" stroke="#fff" stroke-width="1.3"/>
<polyline points="981.39,875.4 1015.8,773.8 1050.21,743.8 1084.63,727.4 1119.04,715.1 1153.46,695.6 1187.87,667.4 1222.29,660.9 1256.7,645.5 1291.11,639.6" fill="none" stroke="#6c6c6c" stroke-width="2.3" stroke-linejoin="round" stroke-linecap="butt"/>
<rect x="973.84" y="867.85" width="15.1" height="15.1" stroke="#fff" stroke-width="1.3"/>
<rect x="1008.25" y="766.25" width="15.1" height="15.1" stroke="#fff" stroke-width="1.3"/>
<rect x="1042.66" y="736.25" width="15.1" height="15.1" stroke="#fff" stroke-width="1.3"/>
<rect x="1077.08" y="719.85" width="15.1" height="15.1" stroke="#fff" stroke-width="1.3"/>
<rect x="1111.49" y="707.55" width="15.1" height="15.1" stroke="#fff" stroke-width="1.3"/>
<rect x="1145.91" y="688.05" width="15.1" height="15.1" stroke="#fff" stroke-width="1.3"/>
<rect x="1180.32" y="659.85" width="15.1" height="15.1" stroke="#fff" stroke-width="1.3"/>
<rect x="1214.74" y="653.35" width="15.1" height="15.1" stroke="#fff" stroke-width="1.3"/>
<rect x="1249.15" y="637.95" width="15.1" height="15.1" stroke="#fff" stroke-width="1.3"/>
<rect x="1283.56" y="632.05" width="15.1" height="15.1" stroke="#fff" stroke-width="1.3"/>
<polyline points="981.39,837.6 1015.8,807.6 1050.21,781.6 1084.63,777.7 1119.04,777.7 1153.46,776.4 1187.87,764.6 1222.29,766.7 1256.7,759.4 1291.11,757.4" fill="none" stroke="#6c6c6c" stroke-width="2.3" stroke-linejoin="round" stroke-linecap="butt"/>
<path d="M977.61 830.05 L981.39 833.83 L985.16 830.05 L988.94 833.83 L985.16 837.6 L988.94 841.38 L985.16 845.15 L981.39 841.38 L977.61 845.15 L973.84 841.38 L977.61 837.6 L973.84 833.83 Z" stroke="#fff" stroke-width="1.3"/>
<path d="M1012.03 800.05 L1015.8 803.83 L1019.58 800.05 L1023.35 803.83 L1019.58 807.6 L1023.35 811.38 L1019.58 815.15 L1015.8 811.38 L1012.03 815.15 L1008.25 811.38 L1012.03 807.6 L1008.25 803.83 Z" stroke="#fff" stroke-width="1.3"/>
<path d="M1046.44 774.05 L1050.21 777.83 L1053.99 774.05 L1057.76 777.83 L1053.99 781.6 L1057.76 785.38 L1053.99 789.15 L1050.21 785.38 L1046.44 789.15 L1042.66 785.38 L1046.44 781.6 L1042.66 777.83 Z" stroke="#fff" stroke-width="1.3"/>
<path d="M1080.85 770.15 L1084.63 773.93 L1088.4 770.15 L1092.18 773.93 L1088.4 777.7 L1092.18 781.48 L1088.4 785.25 L1084.63 781.48 L1080.85 785.25 L1077.08 781.48 L1080.85 777.7 L1077.08 773.93 Z" stroke="#fff" stroke-width="1.3"/>
<path d="M1115.27 770.15 L1119.04 773.93 L1122.82 770.15 L1126.59 773.93 L1122.82 777.7 L1126.59 781.48 L1122.82 785.25 L1119.04 781.48 L1115.27 785.25 L1111.49 781.48 L1115.27 777.7 L1111.49 773.93 Z" stroke="#fff" stroke-width="1.3"/>
<path d="M1149.68 768.85 L1153.46 772.62 L1157.23 768.85 L1161.01 772.62 L1157.23 776.4 L1161.01 780.17 L1157.23 783.95 L1153.46 780.17 L1149.68 783.95 L1145.91 780.17 L1149.68 776.4 L1145.91 772.62 Z" stroke="#fff" stroke-width="1.3"/>
<path d="M1184.1 757.05 L1187.87 760.83 L1191.65 757.05 L1195.42 760.83 L1191.65 764.6 L1195.42 768.38 L1191.65 772.15 L1187.87 768.38 L1184.1 772.15 L1180.32 768.38 L1184.1 764.6 L1180.32 760.83 Z" stroke="#fff" stroke-width="1.3"/>
<path d="M1218.51 759.15 L1222.29 762.93 L1226.06 759.15 L1229.84 762.93 L1226.06 766.7 L1229.84 770.48 L1226.06 774.25 L1222.29 770.48 L1218.51 774.25 L1214.74 770.48 L1218.51 766.7 L1214.74 762.93 Z" stroke="#fff" stroke-width="1.3"/>
<path d="M1252.92 751.85 L1256.7 755.62 L1260.47 751.85 L1264.25 755.62 L1260.47 759.4 L1264.25 763.17 L1260.47 766.95 L1256.7 763.17 L1252.92 766.95 L1249.15 763.17 L1252.92 759.4 L1249.15 755.62 Z" stroke="#fff" stroke-width="1.3"/>
<path d="M1287.34 749.85 L1291.11 753.62 L1294.89 749.85 L1298.66 753.62 L1294.89 757.4 L1298.66 761.17 L1294.89 764.95 L1291.11 761.17 L1287.34 764.95 L1283.56 761.17 L1287.34 757.4 L1283.56 753.62 Z" stroke="#fff" stroke-width="1.3"/>
</g>
<rect x="965.9" y="533.8" width="340.7" height="358.5" fill="none" stroke="#000000" stroke-width="2"/>
<text x="1136.25" y="524.4" text-anchor="middle" font-family="Liberation Sans, sans-serif" font-size="28" fill="#000000">LogisticRegression | Malware</text>
<text x="951.1" y="874.7" text-anchor="end" font-family="Liberation Sans, sans-serif" font-size="25.7" fill="#000000">0.70</text>
<text x="951.1" y="784.07" text-anchor="end" font-family="Liberation Sans, sans-serif" font-size="25.7" fill="#000000">0.75</text>
<text x="951.1" y="693.43" text-anchor="end" font-family="Liberation Sans, sans-serif" font-size="25.7" fill="#000000">0.80</text>
<text x="951.1" y="602.8" text-anchor="end" font-family="Liberation Sans, sans-serif" font-size="25.7" fill="#000000">0.85</text>
<clipPath id="c20"><rect x="108.3" y="951.6" width="340.7" height="358.5"/></clipPath>
<g clip-path="url(#c20)" fill="#808080">
<polyline points="123.79,1293.9 158.2,1114.1 192.61,1057.6 227.03,1038 261.44,1009.3 295.86,1006 330.27,1007.5 364.69,1005 399.1,1004 433.51,999" fill="none" stroke="#6c6c6c" stroke-width="2.3" stroke-linejoin="round" stroke-linecap="butt"/>
<path d="M123.79 1286.35 L116.24 1301.45 L131.34 1301.45 Z" stroke="#fff" stroke-width="1.3"/>
<path d="M158.2 1106.55 L150.65 1121.65 L165.75 1121.65 Z" stroke="#fff" stroke-width="1.3"/>
<path d="M192.61 1050.05 L185.06 1065.15 L200.16 1065.15 Z" stroke="#fff" stroke-width="1.3"/>
<path d="M227.03 1030.45 L219.48 1045.55 L234.58 1045.55 Z" stroke="#fff" stroke-width="1.3"/>
<path d="M261.44 1001.75 L253.89 1016.85 L268.99 1016.85 Z" stroke="#fff" stroke-width="1.3"/>
<path d="M295.86 998.45 L288.31 1013.55 L303.41 1013.55 Z" stroke="#fff" stroke-width="1.3"/>
<path d="M330.27 999.95 L322.72 1015.05 L337.82 1015.05 Z" stroke="#fff" stroke-width="1.3"/>
<path d="M364.69 997.45 L357.14 1012.55 L372.24 1012.55 Z" stroke="#fff" stroke-width="1.3"/>
<path d="M399.1 996.45 L391.55 1011.55 L406.65 1011.55 Z" stroke="#fff" stroke-width="1.3"/>
<path d="M433.51 991.45 L425.96 1006.55 L441.06 1006.55 Z" stroke="#fff" stroke-width="1.3"/>
<polyline points="123.79,1196.2 158.2,1060.2 192.61,1022.4 227.03,1008.8 261.44,1002.8 295.86,993.7 330.27,990 364.69,987.2 399.1,973.4 433.51,967.6" fill="none" stroke="#6c6c6c" stroke-width="2.3" stroke-linejoin="round" stroke-linecap="butt"/>
<circle cx="123.79" cy="1196.2" r="7.55" stroke="#fff" stroke-width="1.3"/>
<circle cx="158.2" cy="1060.2" r="7.55" stroke="#fff" stroke-width="1.3"/>
<circle cx="192.61" cy="1022.4" r="7.55" stroke="#fff" stroke-width="1.3"/>
<circle cx="227.03" cy="1008.8" r="7.55" stroke="#fff" stroke-width="1.3"/>
<circle cx="261.44" cy="1002.8" r="7.55" stroke="#fff" stroke-width="1.3"/>
<circle cx="295.86" cy="993.7" r="7.55" stroke="#fff" stroke-width="1.3"/>
<circle cx="330.27" cy="990" r="7.55" stroke="#fff" stroke-width="1.3"/>
<circle cx="364.69" cy="987.2" r="7.55" stroke="#fff" stroke-width="1.3"/>
<circle cx="399.1" cy="973.4" r="7.55" stroke="#fff" stroke-width="1.3"/>
<circle cx="433.51" cy="967.6" r="7.55" stroke="#fff" stroke-width="1.3"/>
<polyline points="123.79,1196.2 158.2,1194.4 192.61,1110.5 227.03,1108.4 261.44,1098.5 295.86,1069.8 330.27,1012 364.69,1001 399.1,989.5 433.51,987.5" fill="none" stroke="#6c6c6c" stroke-width="2.3" stroke-linejoin="round" stroke-linecap="butt"/>
<path d="M123.79 1185.52 L134.46 1196.2 L123.79 1206.88 L113.11 1196.2 Z" stroke="#fff" stroke-width="1.3"/>
<path d="M158.2 1183.72 L168.88 1194.4 L158.2 1205.08 L147.52 1194.4 Z" stroke="#fff" stroke-width="1.3"/>
<path d="M192.61 1099.82 L203.29 1110.5 L192.61 1121.18 L181.94 1110.5 Z" stroke="#fff" stroke-width="1.3"/>
<path d="M227.03 1097.72 L237.71 1108.4 L227.03 1119.08 L216.35 1108.4 Z" stroke="#fff" stroke-width="1.3"/>
<path d="M261.44 1087.82 L272.12 1098.5 L261.44 1109.18 L250.77 1098.5 Z" stroke="#fff" stroke-width="1.3"/>
<path d="M295.86 1059.12 L306.53 1069.8 L295.86 1080.48 L285.18 1069.8 Z" stroke="#fff" stroke-width="1.3"/>
<path d="M330.27 1001.32 L340.95 1012 L330.27 1022.68 L319.59 1012 Z" stroke="#fff" stroke-width="1.3"/>
<path d="M364.69 990.32 L375.36 1001 L364.69 1011.68 L354.01 1001 Z" stroke="#fff" stroke-width="1.3"/>
<path d="M399.1 978.82 L409.78 989.5 L399.1 1000.18 L388.42 989.5 Z" stroke="#fff" stroke-width="1.3"/>
<path d="M433.51 976.82 L444.19 987.5 L433.51 998.18 L422.84 987.5 Z" stroke="#fff" stroke-width="1.3"/>
<polyline points="123.79,1196.2 158.2,1174 192.61,1117.5 227.03,1072.4 261.44,1064.1 295.86,996.8 330.27,989.8 364.69,990.6 399.1,989.8 433.51,985.9" fill="none" stroke="#6c6c6c" stroke-width="2.3" stroke-linejoin="round" stroke-linecap="butt"/>
<rect x="116.24" y="1188.65" width="15.1" height="15.1" stroke="#fff" stroke-width="1.3"/>
<rect x="150.65" y="1166.45" width="15.1" height="15.1" stroke="#fff" stroke-width="1.3"/>
<rect x="185.06" y="1109.95" width="15.1" height="15.1" stroke="#fff" stroke-width="1.3"/>
<rect x="219.48" y="1064.85" width="15.1" height="15.1" stroke="#fff" stroke-width="1.3"/>
<rect x="253.89" y="1056.55" width="15.1" height="15.1" stroke="#fff" stroke-width="1.3"/>
<rect x="288.31" y="989.25" width="15.1" height="15.1" stroke="#fff" stroke-width="1.3"/>
<rect x="322.72" y="982.25" width="15.1" height="15.1" stroke="#fff" stroke-width="1.3"/>
<rect x="357.14" y="983.05" width="15.1" height="15.1" stroke="#fff" stroke-width="1.3"/>
<rect x="391.55" y="982.25" width="15.1" height="15.1" stroke="#fff" stroke-width="1.3"/>
<rect x="425.96" y="978.35" width="15.1" height="15.1" stroke="#fff" stroke-width="1.3"/>
<polyline points="123.79,1196.2 158.2,1194.4 192.61,1142.8 227.03,1039.3 261.44,1038.5 295.86,1025 330.27,1021.1 364.69,1005.4 399.1,1006.2 433.51,996.8" fill="none" stroke="#6c6c6c" stroke-width="2.3" stroke-linejoin="round" stroke-linecap="butt"/>
<path d="M120.01 1188.65 L123.79 1192.42 L127.56 1188.65 L131.34 1192.42 L127.56 1196.2 L131.34 1199.98 L127.56 1203.75 L123.79 1199.98 L120.01 1203.75 L116.24 1199.98 L120.01 1196.2 L116.24 1192.42 Z" stroke="#fff" stroke-width="1.3"/>
<path d="M154.43 1186.85 L158.2 1190.62 L161.98 1186.85 L165.75 1190.62 L161.98 1194.4 L165.75 1198.18 L161.98 1201.95 L158.2 1198.18 L154.43 1201.95 L150.65 1198.18 L154.43 1194.4 L150.65 1190.62 Z" stroke="#fff" stroke-width="1.3"/>
<path d="M188.84 1135.25 L192.61 1139.02 L196.39 1135.25 L200.16 1139.02 L196.39 1142.8 L200.16 1146.58 L196.39 1150.35 L192.61 1146.58 L188.84 1150.35 L185.06 1146.58 L188.84 1142.8 L185.06 1139.02 Z" stroke="#fff" stroke-width="1.3"/>
<path d="M223.25 1031.75 L227.03 1035.52 L230.8 1031.75 L234.58 1035.52 L230.8 1039.3 L234.58 1043.08 L230.8 1046.85 L227.03 1043.08 L223.25 1046.85 L219.48 1043.08 L223.25 1039.3 L219.48 1035.52 Z" stroke="#fff" stroke-width="1.3"/>
<path d="M257.67 1030.95 L261.44 1034.72 L265.22 1030.95 L268.99 1034.72 L265.22 1038.5 L268.99 1042.28 L265.22 1046.05 L261.44 1042.28 L257.67 1046.05 L253.89 1042.28 L257.67 1038.5 L253.89 1034.72 Z" stroke="#fff" stroke-width="1.3"/>
<path d="M292.08 1017.45 L295.86 1021.23 L299.63 1017.45 L303.41 1021.23 L299.63 1025 L303.41 1028.78 L299.63 1032.55 L295.86 1028.78 L292.08 1032.55 L288.31 1028.78 L292.08 1025 L288.31 1021.23 Z" stroke="#fff" stroke-width="1.3"/>
<path d="M326.5 1013.55 L330.27 1017.33 L334.05 1013.55 L337.82 1017.33 L334.05 1021.1 L337.82 1024.88 L334.05 1028.65 L330.27 1024.88 L326.5 1028.65 L322.72 1024.88 L326.5 1021.1 L322.72 1017.33 Z" stroke="#fff" stroke-width="1.3"/>
<path d="M360.91 997.85 L364.69 1001.62 L368.46 997.85 L372.24 1001.62 L368.46 1005.4 L372.24 1009.17 L368.46 1012.95 L364.69 1009.17 L360.91 1012.95 L357.14 1009.17 L360.91 1005.4 L357.14 1001.62 Z" stroke="#fff" stroke-width="1.3"/>
<path d="M395.32 998.65 L399.1 1002.43 L402.87 998.65 L406.65 1002.43 L402.87 1006.2 L406.65 1009.98 L402.87 1013.75 L399.1 1009.98 L395.32 1013.75 L391.55 1009.98 L395.32 1006.2 L391.55 1002.43 Z" stroke="#fff" stroke-width="1.3"/>
<path d="M429.74 989.25 L433.51 993.02 L437.29 989.25 L441.06 993.02 L437.29 996.8 L441.06 1000.57 L437.29 1004.35 L433.51 1000.57 L429.74 1004.35 L425.96 1000.57 L429.74 996.8 L425.96 993.02 Z" stroke="#fff" stroke-width="1.3"/>
</g>
<rect x="108.3" y="951.6" width="340.7" height="358.5" fill="none" stroke="#000000" stroke-width="2"/>
<text x="278.65" y="942.2" text-anchor="middle" font-family="Liberation Sans, sans-serif" font-size="28" fill="#000000">XGBClassifier | Churn</text>
<text x="93.5" y="1252" text-anchor="end" font-family="Liberation Sans, sans-serif" font-size="25.7" fill="#000000">0.80</text>
<text x="93.5" y="1181.15" text-anchor="end" font-family="Liberation Sans, sans-serif" font-size="25.7" fill="#000000">0.83</text>
<text x="93.5" y="1110.3" text-anchor="end" font-family="Liberation Sans, sans-serif" font-size="25.7" fill="#000000">0.85</text>
<text x="93.5" y="1039.45" text-anchor="end" font-family="Liberation Sans, sans-serif" font-size="25.7" fill="#000000">0.88</text>
<text x="93.5" y="968.6" text-anchor="end" font-family="Liberation Sans, sans-serif" font-size="25.7" fill="#000000">0.90</text>
<text x="31.4" y="1130.85" transform="rotate(-90 31.4 1130.85)" text-anchor="middle" font-family="Liberation Sans, sans-serif" font-size="28" fill="#000000">AUC</text>
<text x="123.79" y="1344" text-anchor="middle" font-family="Liberation Sans, sans-serif" font-size="25.7" fill="#000000">1</text>
<text x="158.2" y="1344" text-anchor="middle" font-family="Liberation Sans, sans-serif" font-size="25.7" fill="#000000">2</text>
<text x="192.61" y="1344" text-anchor="middle" font-family="Liberation Sans, sans-serif" font-size="25.7" fill="#000000">3</text>
<text x="227.03" y="1344" text-anchor="middle" font-family="Liberation Sans, sans-serif" font-size="25.7" fill="#000000">4</text>
<text x="261.44" y="1344" text-anchor="middle" font-family="Liberation Sans, sans-serif" font-size="25.7" fill="#000000">5</text>
<text x="295.86" y="1344" text-anchor="middle" font-family="Liberation Sans, sans-serif" font-size="25.7" fill="#000000">6</text>
<text x="330.27" y="1344" text-anchor="middle" font-family="Liberation Sans, sans-serif" font-size="25.7" fill="#000000">7</text>
<text x="364.69" y="1344" text-anchor="middle" font-family="Liberation Sans, sans-serif" font-size="25.7" fill="#000000">8</text>
<text x="399.1" y="1344" text-anchor="middle" font-family="Liberation Sans, sans-serif" font-size="25.7" fill="#000000">9</text>
<text x="433.51" y="1344" text-anchor="middle" font-family="Liberation Sans, sans-serif" font-size="25.7" fill="#000000">10</text>
<text x="278.65" y="1374.6" text-anchor="middle" font-family="Liberation Sans, sans-serif" font-size="28" fill="#000000">Number of Features</text>
<clipPath id="c21"><rect x="537.1" y="951.6" width="340.7" height="358.5"/></clipPath>
<g clip-path="url(#c21)" fill="#808080">
<polyline points="552.59,1292.1 587,1223.1 621.41,1150.8 655.83,1107.9 690.24,1056.2 724.66,1011.6 759.07,985 793.49,967.8 827.9,967.8 862.31,967.8" fill="none" stroke="#6c6c6c" stroke-width="2.3" stroke-linejoin="round" stroke-linecap="butt"/>
<path d="M552.59 1284.55 L545.04 1299.65 L560.14 1299.65 Z" stroke="#fff" stroke-width="1.3"/>
<path d="M587 1215.55 L579.45 1230.65 L594.55 1230.65 Z" stroke="#fff" stroke-width="1.3"/>
<path d="M621.41 1143.25 L613.86 1158.35 L628.96 1158.35 Z" stroke="#fff" stroke-width="1.3"/>
<path d="M655.83 1100.35 L648.28 1115.45 L663.38 1115.45 Z" stroke="#fff" stroke-width="1.3"/>
<path d="M690.24 1048.65 L682.69 1063.75 L697.79 1063.75 Z" stroke="#fff" stroke-width="1.3"/>
<path d="M724.66 1004.05 L717.11 1019.15 L732.21 1019.15 Z" stroke="#fff" stroke-width="1.3"/>
<path d="M759.07 977.45 L751.52 992.55 L766.62 992.55 Z" stroke="#fff" stroke-width="1.3"/>
<path d="M793.49 960.25 L785.94 975.35 L801.04 975.35 Z" stroke="#fff" stroke-width="1.3"/>
<path d="M827.9 960.25 L820.35 975.35 L835.45 975.35 Z" stroke="#fff" stroke-width="1.3"/>
<path d="M862.31 960.25 L854.76 975.35 L869.86 975.35 Z" stroke="#fff" stroke-width="1.3"/>
<polyline points="552.59,1289.9 587,1267 621.41,1194.8 655.83,1141.9 690.24,1081.9 724.66,1042.3 759.07,1012.8 793.49,989.9 827.9,973.8 862.31,967.8" fill="none" stroke="#6c6c6c" stroke-width="2.3" stroke-linejoin="round" stroke-linecap="butt"/>
<circle cx="552.59" cy="1289.9" r="7.55" stroke="#fff" stroke-width="1.3"/>
<circle cx="587" cy="1267" r="7.55" stroke="#fff" stroke-width="1.3"/>
<circle cx="621.41" cy="1194.8" r="7.55" stroke="#fff" stroke-width="1.3"/>
<circle cx="655.83" cy="1141.9" r="7.55" stroke="#fff" stroke-width="1.3"/>
<circle cx="690.24" cy="1081.9" r="7.55" stroke="#fff" stroke-width="1.3"/>
<circle cx="724.66" cy="1042.3" r="7.55" stroke="#fff" stroke-width="1.3"/>
<circle cx="759.07" cy="1012.8" r="7.55" stroke="#fff" stroke-width="1.3"/>
<circle cx="793.49" cy="989.9" r="7.55" stroke="#fff" stroke-width="1.3"/>
<circle cx="827.9" cy="973.8" r="7.55" stroke="#fff" stroke-width="1.3"/>
<circle cx="862.31" cy="967.8" r="7.55" stroke="#fff" stroke-width="1.3"/>
<polyline points="552.59,1291.1 587,1221.6 621.41,1153.6 655.83,1092.6 690.24,1045.6 724.66,1010.6 759.07,986.1 793.49,967.8 827.9,967.8 862.31,967.8" fill="none" stroke="#6c6c6c" stroke-width="2.3" stroke-linejoin="round" stroke-linecap="butt"/>
<path d="M552.59 1280.42 L563.26 1291.1 L552.59 1301.78 L541.91 1291.1 Z" stroke="#fff" stroke-width="1.3"/>
<path d="M587 1210.92 L597.68 1221.6 L587 1232.28 L576.32 1221.6 Z" stroke="#fff" stroke-width="1.3"/>
<path d="M621.41 1142.92 L632.09 1153.6 L621.41 1164.28 L610.74 1153.6 Z" stroke="#fff" stroke-width="1.3"/>
<path d="M655.83 1081.92 L666.51 1092.6 L655.83 1103.28 L645.15 1092.6 Z" stroke="#fff" stroke-width="1.3"/>
<path d="M690.24 1034.92 L700.92 1045.6 L690.24 1056.28 L679.57 1045.6 Z" stroke="#fff" stroke-width="1.3"/>
<path d="M724.66 999.92 L735.33 1010.6 L724.66 1021.28 L713.98 1010.6 Z" stroke="#fff" stroke-width="1.3"/>
<path d="M759.07 975.42 L769.75 986.1 L759.07 996.78 L748.39 986.1 Z" stroke="#fff" stroke-width="1.3"/>
<path d="M793.49 957.12 L804.16 967.8 L793.49 978.48 L782.81 967.8 Z" stroke="#fff" stroke-width="1.3"/>
<path d="M827.9 957.12 L838.58 967.8 L827.9 978.48 L817.22 967.8 Z" stroke="#fff" stroke-width="1.3"/>
<path d="M862.31 957.12 L872.99 967.8 L862.31 978.48 L851.64 967.8 Z" stroke="#fff" stroke-width="1.3"/>
<polyline points="552.59,1292.1 587,1215.6 621.41,1158.6 655.83,1091.1 690.24,1040.6 724.66,1013.6 759.07,985 793.49,967.8 827.9,967.8 862.31,967.8" fill="none" stroke="#6c6c6c" stroke-width="2.3" stroke-linejoin="round" stroke-linecap="butt"/>
<rect x="545.04" y="1284.55" width="15.1" height="15.1" stroke="#fff" stroke-width="1.3"/>
<rect x="579.45" y="1208.05" width="15.1" height="15.1" stroke="#fff" stroke-width="1.3"/>
<rect x="613.86" y="1151.05" width="15.1" height="15.1" stroke="#fff" stroke-width="1.3"/>
<rect x="648.28" y="1083.55" width="15.1" height="15.1" stroke="#fff" stroke-width="1.3"/>
<rect x="682.69" y="1033.05" width="15.1" height="15.1" stroke="#fff" stroke-width="1.3"/>
<rect x="717.11" y="1006.05" width="15.1" height="15.1" stroke="#fff" stroke-width="1.3"/>
<rect x="751.52" y="977.45" width="15.1" height="15.1" stroke="#fff" stroke-width="1.3"/>
<rect x="785.94" y="960.25" width="15.1" height="15.1" stroke="#fff" stroke-width="1.3"/>
<rect x="820.35" y="960.25" width="15.1" height="15.1" stroke="#fff" stroke-width="1.3"/>
<rect x="854.76" y="960.25" width="15.1" height="15.1" stroke="#fff" stroke-width="1.3"/>
<polyline points="552.59,1291 587,1221.4 621.41,1156.1 655.83,1105.8 690.24,1054.9 724.66,1013.4 759.07,985.3 793.49,967.8 827.9,967.8 862.31,967.8" fill="none" stroke="#6c6c6c" stroke-width="2.3" stroke-linejoin="round" stroke-linecap="butt"/>
<path d="M548.81 1283.45 L552.59 1287.22 L556.36 1283.45 L560.14 1287.22 L556.36 1291 L560.14 1294.78 L556.36 1298.55 L552.59 1294.78 L548.81 1298.55 L545.04 1294.78 L548.81 1291 L545.04 1287.22 Z" stroke="#fff" stroke-width="1.3"/>
<path d="M583.23 1213.85 L587 1217.62 L590.78 1213.85 L594.55 1217.62 L590.78 1221.4 L594.55 1225.18 L590.78 1228.95 L587 1225.18 L583.23 1228.95 L579.45 1225.18 L583.23 1221.4 L579.45 1217.62 Z" stroke="#fff" stroke-width="1.3"/>
<path d="M617.64 1148.55 L621.41 1152.32 L625.19 1148.55 L628.96 1152.32 L625.19 1156.1 L628.96 1159.88 L625.19 1163.65 L621.41 1159.88 L617.64 1163.65 L613.86 1159.88 L617.64 1156.1 L613.86 1152.32 Z" stroke="#fff" stroke-width="1.3"/>
<path d="M652.05 1098.25 L655.83 1102.02 L659.6 1098.25 L663.38 1102.02 L659.6 1105.8 L663.38 1109.58 L659.6 1113.35 L655.83 1109.58 L652.05 1113.35 L648.28 1109.58 L652.05 1105.8 L648.28 1102.02 Z" stroke="#fff" stroke-width="1.3"/>
<path d="M686.47 1047.35 L690.24 1051.12 L694.02 1047.35 L697.79 1051.12 L694.02 1054.9 L697.79 1058.68 L694.02 1062.45 L690.24 1058.68 L686.47 1062.45 L682.69 1058.68 L686.47 1054.9 L682.69 1051.12 Z" stroke="#fff" stroke-width="1.3"/>
<path d="M720.88 1005.85 L724.66 1009.63 L728.43 1005.85 L732.21 1009.63 L728.43 1013.4 L732.21 1017.18 L728.43 1020.95 L724.66 1017.18 L720.88 1020.95 L717.11 1017.18 L720.88 1013.4 L717.11 1009.63 Z" stroke="#fff" stroke-width="1.3"/>
<path d="M755.3 977.75 L759.07 981.52 L762.85 977.75 L766.62 981.52 L762.85 985.3 L766.62 989.07 L762.85 992.85 L759.07 989.07 L755.3 992.85 L751.52 989.07 L755.3 985.3 L751.52 981.52 Z" stroke="#fff" stroke-width="1.3"/>
<path d="M789.71 960.25 L793.49 964.02 L797.26 960.25 L801.04 964.02 L797.26 967.8 L801.04 971.57 L797.26 975.35 L793.49 971.57 L789.71 975.35 L785.94 971.57 L789.71 967.8 L785.94 964.02 Z" stroke="#fff" stroke-width="1.3"/>
<path d="M824.12 960.25 L827.9 964.02 L831.67 960.25 L835.45 964.02 L831.67 967.8 L835.45 971.57 L831.67 975.35 L827.9 971.57 L824.12 975.35 L820.35 971.57 L824.12 967.8 L820.35 964.02 Z" stroke="#fff" stroke-width="1.3"/>
<path d="M858.54 960.25 L862.31 964.02 L866.09 960.25 L869.86 964.02 L866.09 967.8 L869.86 971.57 L866.09 975.35 L862.31 971.57 L858.54 975.35 L854.76 971.57 L858.54 967.8 L854.76 964.02 Z" stroke="#fff" stroke-width="1.3"/>
</g>
<rect x="537.1" y="951.6" width="340.7" height="358.5" fill="none" stroke="#000000" stroke-width="2"/>
<text x="707.45" y="942.2" text-anchor="middle" font-family="Liberation Sans, sans-serif" font-size="28" fill="#000000">XGBClassifier | Synthetic</text>
<text x="522.3" y="1299.7" text-anchor="end" font-family="Liberation Sans, sans-serif" font-size="25.7" fill="#000000">0.60</text>
<text x="522.3" y="1214.87" text-anchor="end" font-family="Liberation Sans, sans-serif" font-size="25.7" fill="#000000">0.70</text>
<text x="522.3" y="1130.03" text-anchor="end" font-family="Liberation Sans, sans-serif" font-size="25.7" fill="#000000">0.80</text>
<text x="522.3" y="1045.2" text-anchor="end" font-family="Liberation Sans, sans-serif" font-size="25.7" fill="#000000">0.90</text>
<text x="552.59" y="1344" text-anchor="middle" font-family="Liberation Sans, sans-serif" font-size="25.7" fill="#000000">1</text>
<text x="587" y="1344" text-anchor="middle" font-family="Liberation Sans, sans-serif" font-size="25.7" fill="#000000">2</text>
<text x="621.41" y="1344" text-anchor="middle" font-family="Liberation Sans, sans-serif" font-size="25.7" fill="#000000">3</text>
<text x="655.83" y="1344" text-anchor="middle" font-family="Liberation Sans, sans-serif" font-size="25.7" fill="#000000">4</text>
<text x="690.24" y="1344" text-anchor="middle" font-family="Liberation Sans, sans-serif" font-size="25.7" fill="#000000">5</text>
<text x="724.66" y="1344" text-anchor="middle" font-family="Liberation Sans, sans-serif" font-size="25.7" fill="#000000">6</text>
<text x="759.07" y="1344" text-anchor="middle" font-family="Liberation Sans, sans-serif" font-size="25.7" fill="#000000">7</text>
<text x="793.49" y="1344" text-anchor="middle" font-family="Liberation Sans, sans-serif" font-size="25.7" fill="#000000">8</text>
<text x="827.9" y="1344" text-anchor="middle" font-family="Liberation Sans, sans-serif" font-size="25.7" fill="#000000">9</text>
<text x="862.31" y="1344" text-anchor="middle" font-family="Liberation Sans, sans-serif" font-size="25.7" fill="#000000">10</text>
<text x="707.45" y="1374.6" text-anchor="middle" font-family="Liberation Sans, sans-serif" font-size="28" fill="#000000">Number of Features</text>
<clipPath id="c22"><rect x="965.9" y="951.6" width="340.7" height="358.5"/></clipPath>
<g clip-path="url(#c22)" fill="#808080">
<polyline points="981.39,1285.6 1015.8,1251.7 1050.21,1224.3 1084.63,1218 1119.04,1206.1 1153.46,1204.3 1187.87,1200.9 1222.29,1184.5 1256.7,1178.7 1291.11,1176.7" fill="none" stroke="#6c6c6c" stroke-width="2.3" stroke-linejoin="round" stroke-linecap="butt"/>
<path d="M981.39 1278.05 L973.84 1293.15 L988.94 1293.15 Z" stroke="#fff" stroke-width="1.3"/>
<path d="M1015.8 1244.15 L1008.25 1259.25 L1023.35 1259.25 Z" stroke="#fff" stroke-width="1.3"/>
<path d="M1050.21 1216.75 L1042.66 1231.85 L1057.76 1231.85 Z" stroke="#fff" stroke-width="1.3"/>
<path d="M1084.63 1210.45 L1077.08 1225.55 L1092.18 1225.55 Z" stroke="#fff" stroke-width="1.3"/>
<path d="M1119.04 1198.55 L1111.49 1213.65 L1126.59 1213.65 Z" stroke="#fff" stroke-width="1.3"/>
<path d="M1153.46 1196.75 L1145.91 1211.85 L1161.01 1211.85 Z" stroke="#fff" stroke-width="1.3"/>
<path d="M1187.87 1193.35 L1180.32 1208.45 L1195.42 1208.45 Z" stroke="#fff" stroke-width="1.3"/>
<path d="M1222.29 1176.95 L1214.74 1192.05 L1229.84 1192.05 Z" stroke="#fff" stroke-width="1.3"/>
<path d="M1256.7 1171.15 L1249.15 1186.25 L1264.25 1186.25 Z" stroke="#fff" stroke-width="1.3"/>
<path d="M1291.11 1169.15 L1283.56 1184.25 L1298.66 1184.25 Z" stroke="#fff" stroke-width="1.3"/>
<polyline points="981.39,1285.6 1015.8,1240 1050.21,1189.2 1084.63,1143.6 1119.04,1092.2 1153.46,1050.5 1187.87,1015.1 1222.29,999.7 1256.7,984.6 1291.11,967.6" fill="none" stroke="#6c6c6c" stroke-width="2.3" stroke-linejoin="round" stroke-linecap="butt"/>
<circle cx="981.39" cy="1285.6" r="7.55" stroke="#fff" stroke-width="1.3"/>
<circle cx="1015.8" cy="1240" r="7.55" stroke="#fff" stroke-width="1.3"/>
<circle cx="1050.21" cy="1189.2" r="7.55" stroke="#fff" stroke-width="1.3"/>
<circle cx="1084.63" cy="1143.6" r="7.55" stroke="#fff" stroke-width="1.3"/>
<circle cx="1119.04" cy="1092.2" r="7.55" stroke="#fff" stroke-width="1.3"/>
<circle cx="1153.46" cy="1050.5" r="7.55" stroke="#fff" stroke-width="1.3"/>
<circle cx="1187.87" cy="1015.1" r="7.55" stroke="#fff" stroke-width="1.3"/>
<circle cx="1222.29" cy="999.7" r="7.55" stroke="#fff" stroke-width="1.3"/>
<circle cx="1256.7" cy="984.6" r="7.55" stroke="#fff" stroke-width="1.3"/>
<circle cx="1291.11" cy="967.6" r="7.55" stroke="#fff" stroke-width="1.3"/>
<polyline points="981.39,1285.6 1015.8,1237.4 1050.21,1212.6 1084.63,1181.3 1119.04,1145.4 1153.46,1120.9 1187.87,1111 1222.29,1101.9 1256.7,1099.2 1291.11,1094" fill="none" stroke="#6c6c6c" stroke-width="2.3" stroke-linejoin="round" stroke-linecap="butt"/>
<path d="M981.39 1274.92 L992.06 1285.6 L981.39 1296.28 L970.71 1285.6 Z" stroke="#fff" stroke-width="1.3"/>
<path d="M1015.8 1226.72 L1026.48 1237.4 L1015.8 1248.08 L1005.12 1237.4 Z" stroke="#fff" stroke-width="1.3"/>
<path d="M1050.21 1201.92 L1060.89 1212.6 L1050.21 1223.28 L1039.54 1212.6 Z" stroke="#fff" stroke-width="1.3"/>
<path d="M1084.63 1170.62 L1095.31 1181.3 L1084.63 1191.98 L1073.95 1181.3 Z" stroke="#fff" stroke-width="1.3"/>
<path d="M1119.04 1134.72 L1129.72 1145.4 L1119.04 1156.08 L1108.37 1145.4 Z" stroke="#fff" stroke-width="1.3"/>
<path d="M1153.46 1110.22 L1164.13 1120.9 L1153.46 1131.58 L1142.78 1120.9 Z" stroke="#fff" stroke-width="1.3"/>
<path d="M1187.87 1100.32 L1198.55 1111 L1187.87 1121.68 L1177.19 1111 Z" stroke="#fff" stroke-width="1.3"/>
<path d="M1222.29 1091.22 L1232.96 1101.9 L1222.29 1112.58 L1211.61 1101.9 Z" stroke="#fff" stroke-width="1.3"/>
<path d="M1256.7 1088.52 L1267.38 1099.2 L1256.7 1109.88 L1246.02 1099.2 Z" stroke="#fff" stroke-width="1.3"/>
<path d="M1291.11 1083.32 L1301.79 1094 L1291.11 1104.68 L1280.44 1094 Z" stroke="#fff" stroke-width="1.3"/>
<polyline points="981.39,1293.4 1015.8,1215.7 1050.21,1185.3 1084.63,1170.9 1119.04,1163.6 1153.46,1135.2 1187.87,1113.6 1222.29,1087.5 1256.7,1070.6 1291.11,1070.6" fill="none" stroke="#6c6c6c" stroke-width="2.3" stroke-linejoin="round" stroke-linecap="butt"/>
<rect x="973.84" y="1285.85" width="15.1" height="15.1" stroke="#fff" stroke-width="1.3"/>
<rect x="1008.25" y="1208.15" width="15.1" height="15.1" stroke="#fff" stroke-width="1.3"/>
<rect x="1042.66" y="1177.75" width="15.1" height="15.1" stroke="#fff" stroke-width="1.3"/>
<rect x="1077.08" y="1163.35" width="15.1" height="15.1" stroke="#fff" stroke-width="1.3"/>
<rect x="1111.49" y="1156.05" width="15.1" height="15.1" stroke="#fff" stroke-width="1.3"/>
<rect x="1145.91" y="1127.65" width="15.1" height="15.1" stroke="#fff" stroke-width="1.3"/>
<rect x="1180.32" y="1106.05" width="15.1" height="15.1" stroke="#fff" stroke-width="1.3"/>
<rect x="1214.74" y="1079.95" width="15.1" height="15.1" stroke="#fff" stroke-width="1.3"/>
<rect x="1249.15" y="1063.05" width="15.1" height="15.1" stroke="#fff" stroke-width="1.3"/>
<rect x="1283.56" y="1063.05" width="15.1" height="15.1" stroke="#fff" stroke-width="1.3"/>
<polyline points="981.39,1264.2 1015.8,1241.3 1050.21,1220.4 1084.63,1217.8 1119.04,1219.1 1153.46,1216.5 1187.87,1208.7 1222.29,1210 1256.7,1203.5 1291.11,1202.7" fill="none" stroke="#6c6c6c" stroke-width="2.3" stroke-linejoin="round" stroke-linecap="butt"/>
<path d="M977.61 1256.65 L981.39 1260.42 L985.16 1256.65 L988.94 1260.42 L985.16 1264.2 L988.94 1267.98 L985.16 1271.75 L981.39 1267.98 L977.61 1271.75 L973.84 1267.98 L977.61 1264.2 L973.84 1260.42 Z" stroke="#fff" stroke-width="1.3"/>
<path d="M1012.03 1233.75 L1015.8 1237.52 L1019.58 1233.75 L1023.35 1237.52 L1019.58 1241.3 L1023.35 1245.08 L1019.58 1248.85 L1015.8 1245.08 L1012.03 1248.85 L1008.25 1245.08 L1012.03 1241.3 L1008.25 1237.52 Z" stroke="#fff" stroke-width="1.3"/>
<path d="M1046.44 1212.85 L1050.21 1216.62 L1053.99 1212.85 L1057.76 1216.62 L1053.99 1220.4 L1057.76 1224.18 L1053.99 1227.95 L1050.21 1224.18 L1046.44 1227.95 L1042.66 1224.18 L1046.44 1220.4 L1042.66 1216.62 Z" stroke="#fff" stroke-width="1.3"/>
<path d="M1080.85 1210.25 L1084.63 1214.02 L1088.4 1210.25 L1092.18 1214.02 L1088.4 1217.8 L1092.18 1221.58 L1088.4 1225.35 L1084.63 1221.58 L1080.85 1225.35 L1077.08 1221.58 L1080.85 1217.8 L1077.08 1214.02 Z" stroke="#fff" stroke-width="1.3"/>
<path d="M1115.27 1211.55 L1119.04 1215.32 L1122.82 1211.55 L1126.59 1215.32 L1122.82 1219.1 L1126.59 1222.88 L1122.82 1226.65 L1119.04 1222.88 L1115.27 1226.65 L1111.49 1222.88 L1115.27 1219.1 L1111.49 1215.32 Z" stroke="#fff" stroke-width="1.3"/>
<path d="M1149.68 1208.95 L1153.46 1212.72 L1157.23 1208.95 L1161.01 1212.72 L1157.23 1216.5 L1161.01 1220.28 L1157.23 1224.05 L1153.46 1220.28 L1149.68 1224.05 L1145.91 1220.28 L1149.68 1216.5 L1145.91 1212.72 Z" stroke="#fff" stroke-width="1.3"/>
<path d="M1184.1 1201.15 L1187.87 1204.92 L1191.65 1201.15 L1195.42 1204.92 L1191.65 1208.7 L1195.42 1212.48 L1191.65 1216.25 L1187.87 1212.48 L1184.1 1216.25 L1180.32 1212.48 L1184.1 1208.7 L1180.32 1204.92 Z" stroke="#fff" stroke-width="1.3"/>
<path d="M1218.51 1202.45 L1222.29 1206.22 L1226.06 1202.45 L1229.84 1206.22 L1226.06 1210 L1229.84 1213.78 L1226.06 1217.55 L1222.29 1213.78 L1218.51 1217.55 L1214.74 1213.78 L1218.51 1210 L1214.74 1206.22 Z" stroke="#fff" stroke-width="1.3"/>
<path d="M1252.92 1195.95 L1256.7 1199.72 L1260.47 1195.95 L1264.25 1199.72 L1260.47 1203.5 L1264.25 1207.28 L1260.47 1211.05 L1256.7 1207.28 L1252.92 1211.05 L1249.15 1207.28 L1252.92 1203.5 L1249.15 1199.72 Z" stroke="#fff" stroke-width="1.3"/>
<path d="M1287.34 1195.15 L1291.11 1198.92 L1294.89 1195.15 L1298.66 1198.92 L1294.89 1202.7 L1298.66 1206.48 L1294.89 1210.25 L1291.11 1206.48 L1287.34 1210.25 L1283.56 1206.48 L1287.34 1202.7 L1283.56 1198.92 Z" stroke="#fff" stroke-width="1.3"/>
</g>
<rect x="965.9" y="951.6" width="340.7" height="358.5" fill="none" stroke="#000000" stroke-width="2"/>
<text x="1136.25" y="942.2" text-anchor="middle" font-family="Liberation Sans, sans-serif" font-size="28" fill="#000000">XGBClassifier | Malware</text>
<text x="951.1" y="1295.3" text-anchor="end" font-family="Liberation Sans, sans-serif" font-size="25.7" fill="#000000">0.70</text>
<text x="951.1" y="1225.1" text-anchor="end" font-family="Liberation Sans, sans-serif" font-size="25.7" fill="#000000">0.75</text>
<text x="951.1" y="1154.9" text-anchor="end" font-family="Liberation Sans, sans-serif" font-size="25.7" fill="#000000">0.80</text>
<text x="951.1" y="1084.7" text-anchor="end" font-family="Liberation Sans, sans-serif" font-size="25.7" fill="#000000">0.85</text>
<text x="951.1" y="1014.5" text-anchor="end" font-family="Liberation Sans, sans-serif" font-size="25.7" fill="#000000">0.90</text>
<text x="981.39" y="1344" text-anchor="middle" font-family="Liberation Sans, sans-serif" font-size="25.7" fill="#000000">1</text>
<text x="1015.8" y="1344" text-anchor="middle" font-family="Liberation Sans, sans-serif" font-size="25.7" fill="#000000">2</text>
<text x="1050.21" y="1344" text-anchor="middle" font-family="Liberation Sans, sans-serif" font-size="25.7" fill="#000000">3</text>
<text x="1084.63" y="1344" text-anchor="middle" font-family="Liberation Sans, sans-serif" font-size="25.7" fill="#000000">4</text>
<text x="1119.04" y="1344" text-anchor="middle" font-family="Liberation Sans, sans-serif" font-size="25.7" fill="#000000">5</text>
<text x="1153.46" y="1344" text-anchor="middle" font-family="Liberation Sans, sans-serif" font-size="25.7" fill="#000000">6</text>
<text x="1187.87" y="1344" text-anchor="middle" font-family="Liberation Sans, sans-serif" font-size="25.7" fill="#000000">7</text>
<text x="1222.29" y="1344" text-anchor="middle" font-family="Liberation Sans, sans-serif" font-size="25.7" fill="#000000">8</text>
<text x="1256.7" y="1344" text-anchor="middle" font-family="Liberation Sans, sans-serif" font-size="25.7" fill="#000000">9</text>
<text x="1291.11" y="1344" text-anchor="middle" font-family="Liberation Sans, sans-serif" font-size="25.7" fill="#000000">10</text>
<text x="1136.25" y="1374.6" text-anchor="middle" font-family="Liberation Sans, sans-serif" font-size="28" fill="#000000">Number of Features</text>
</svg>
</body></html>
